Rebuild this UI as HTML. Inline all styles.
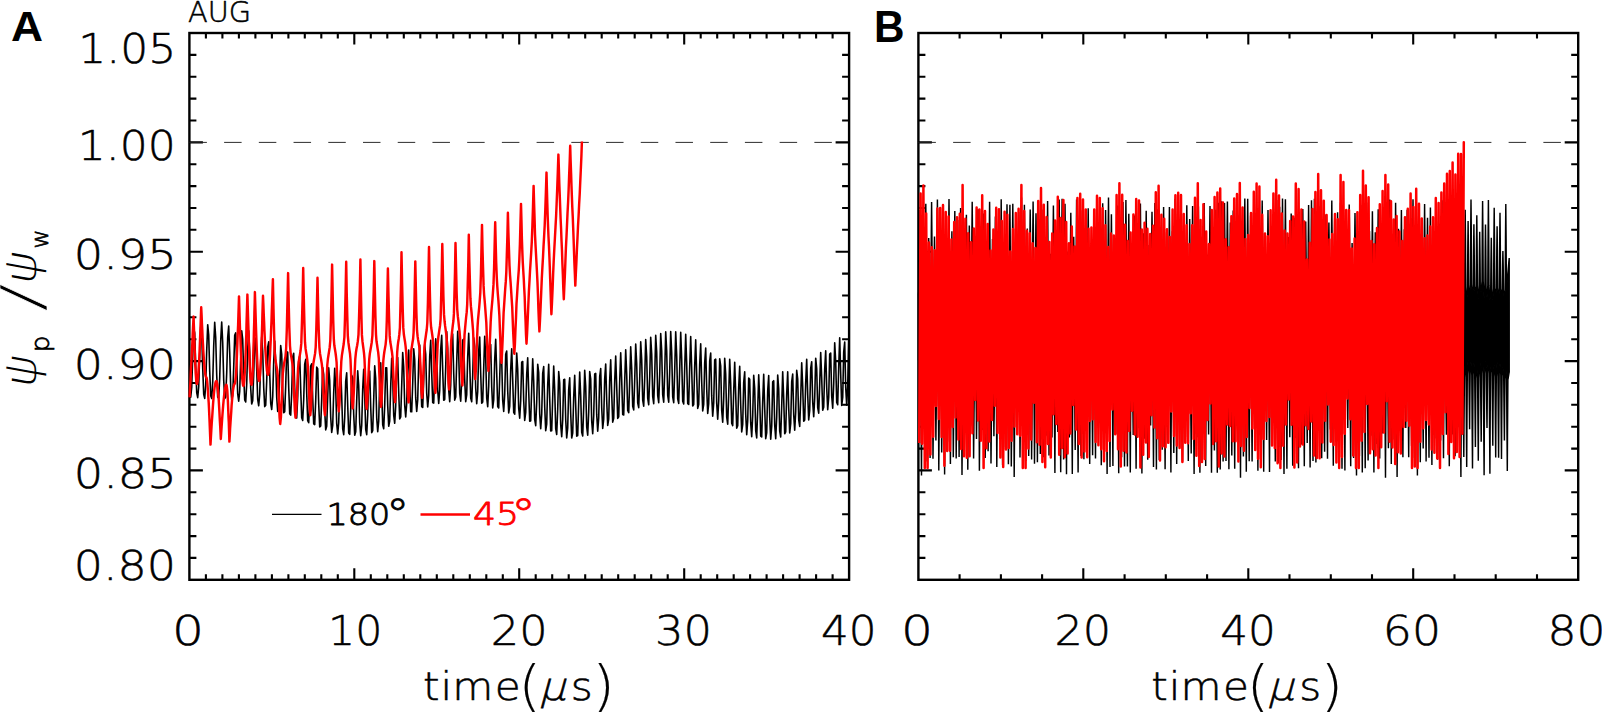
<!DOCTYPE html>
<html lang="en"><head><meta charset="utf-8"><title>Figure</title>
<style>html,body{margin:0;padding:0;background:#fff;overflow:hidden}svg{display:block}</style></head>
<body>
<svg width="1602" height="712" viewBox="0 0 1602 712">
<rect width="1602" height="712" fill="#fff"/>
<rect x="189.4" y="33" width="659.7" height="546.8" fill="none" stroke="#000" stroke-width="2.4"/>
<path d="M205.9 579.8v-5.6M205.9 33v5.6M222.4 579.8v-5.6M222.4 33v5.6M238.9 579.8v-5.6M238.9 33v5.6M255.4 579.8v-5.6M255.4 33v5.6M271.9 579.8v-5.6M271.9 33v5.6M288.4 579.8v-5.6M288.4 33v5.6M304.8 579.8v-5.6M304.8 33v5.6M321.3 579.8v-5.6M321.3 33v5.6M337.8 579.8v-5.6M337.8 33v5.6M354.3 579.8v-11.5M354.3 33v11.5M370.8 579.8v-5.6M370.8 33v5.6M387.3 579.8v-5.6M387.3 33v5.6M403.8 579.8v-5.6M403.8 33v5.6M420.3 579.8v-5.6M420.3 33v5.6M436.8 579.8v-5.6M436.8 33v5.6M453.3 579.8v-5.6M453.3 33v5.6M469.8 579.8v-5.6M469.8 33v5.6M486.3 579.8v-5.6M486.3 33v5.6M502.8 579.8v-5.6M502.8 33v5.6M519.2 579.8v-11.5M519.2 33v11.5M535.7 579.8v-5.6M535.7 33v5.6M552.2 579.8v-5.6M552.2 33v5.6M568.7 579.8v-5.6M568.7 33v5.6M585.2 579.8v-5.6M585.2 33v5.6M601.7 579.8v-5.6M601.7 33v5.6M618.2 579.8v-5.6M618.2 33v5.6M634.7 579.8v-5.6M634.7 33v5.6M651.2 579.8v-5.6M651.2 33v5.6M667.7 579.8v-5.6M667.7 33v5.6M684.2 579.8v-11.5M684.2 33v11.5M700.7 579.8v-5.6M700.7 33v5.6M717.2 579.8v-5.6M717.2 33v5.6M733.7 579.8v-5.6M733.7 33v5.6M750.1 579.8v-5.6M750.1 33v5.6M766.6 579.8v-5.6M766.6 33v5.6M783.1 579.8v-5.6M783.1 33v5.6M799.6 579.8v-5.6M799.6 33v5.6M816.1 579.8v-5.6M816.1 33v5.6M832.6 579.8v-5.6M832.6 33v5.6M189.4 557.9h7M849.1 557.9h-7M189.4 536.1h7M849.1 536.1h-7M189.4 514.2h7M849.1 514.2h-7M189.4 492.3h7M849.1 492.3h-7M189.4 470.4h13.5M849.1 470.4h-13.5M189.4 448.6h7M849.1 448.6h-7M189.4 426.7h7M849.1 426.7h-7M189.4 404.8h7M849.1 404.8h-7M189.4 383h7M849.1 383h-7M189.4 361.1h13.5M849.1 361.1h-13.5M189.4 339.2h7M849.1 339.2h-7M189.4 317.3h7M849.1 317.3h-7M189.4 295.5h7M849.1 295.5h-7M189.4 273.6h7M849.1 273.6h-7M189.4 251.7h13.5M849.1 251.7h-13.5M189.4 229.8h7M849.1 229.8h-7M189.4 208h7M849.1 208h-7M189.4 186.1h7M849.1 186.1h-7M189.4 164.2h7M849.1 164.2h-7M189.4 142.4h13.5M849.1 142.4h-13.5M189.4 120.5h7M849.1 120.5h-7M189.4 98.6h7M849.1 98.6h-7M189.4 76.7h7M849.1 76.7h-7M189.4 54.9h7M849.1 54.9h-7" fill="none" stroke="#000" stroke-width="2.1"/>
<line x1="189.4" y1="142.4" x2="849.1" y2="142.4" stroke="#222" stroke-width="0.95" stroke-dasharray="17.5 17.22"/>
<rect x="918.4" y="33" width="659.8" height="546.8" fill="none" stroke="#000" stroke-width="2.4"/>
<path d="M959.6 579.8v-5.6M959.6 33v5.6M1000.9 579.8v-5.6M1000.9 33v5.6M1042.1 579.8v-5.6M1042.1 33v5.6M1083.3 579.8v-11.5M1083.3 33v11.5M1124.6 579.8v-5.6M1124.6 33v5.6M1165.8 579.8v-5.6M1165.8 33v5.6M1207.1 579.8v-5.6M1207.1 33v5.6M1248.3 579.8v-11.5M1248.3 33v11.5M1289.5 579.8v-5.6M1289.5 33v5.6M1330.8 579.8v-5.6M1330.8 33v5.6M1372 579.8v-5.6M1372 33v5.6M1413.2 579.8v-11.5M1413.2 33v11.5M1454.5 579.8v-5.6M1454.5 33v5.6M1495.7 579.8v-5.6M1495.7 33v5.6M1537 579.8v-5.6M1537 33v5.6M918.4 557.9h7M1578.2 557.9h-7M918.4 536.1h7M1578.2 536.1h-7M918.4 514.2h7M1578.2 514.2h-7M918.4 492.3h7M1578.2 492.3h-7M918.4 470.4h13.5M1578.2 470.4h-13.5M918.4 448.6h7M1578.2 448.6h-7M918.4 426.7h7M1578.2 426.7h-7M918.4 404.8h7M1578.2 404.8h-7M918.4 383h7M1578.2 383h-7M918.4 361.1h13.5M1578.2 361.1h-13.5M918.4 339.2h7M1578.2 339.2h-7M918.4 317.3h7M1578.2 317.3h-7M918.4 295.5h7M1578.2 295.5h-7M918.4 273.6h7M1578.2 273.6h-7M918.4 251.7h13.5M1578.2 251.7h-13.5M918.4 229.8h7M1578.2 229.8h-7M918.4 208h7M1578.2 208h-7M918.4 186.1h7M1578.2 186.1h-7M918.4 164.2h7M1578.2 164.2h-7M918.4 142.4h13.5M1578.2 142.4h-13.5M918.4 120.5h7M1578.2 120.5h-7M918.4 98.6h7M1578.2 98.6h-7M918.4 76.7h7M1578.2 76.7h-7M918.4 54.9h7M1578.2 54.9h-7" fill="none" stroke="#000" stroke-width="2.1"/>
<line x1="918.4" y1="142.4" x2="1578.2" y2="142.4" stroke="#222" stroke-width="0.95" stroke-dasharray="17.5 17.22"/>
<polyline points="189.7,391.1 190.7,397.1 191.7,387.5 192.7,356.4 193.7,328.4 194.7,332.9 195.7,365.2 196.7,392.5 197.7,397.6 198.7,386.7 199.7,354.1 200.7,326.7 201.7,333.7 202.7,367.7 203.7,394.3 204.7,398.4 205.7,385.3 206.7,350.8 207.7,324.7 208.7,335.1 209.7,370.7 210.7,395.8 211.7,398.5 212.7,382.4 213.7,345.9 214.7,322.3 215.7,337.5 216.7,374.7 217.7,397.2 218.7,398.1 219.7,378.3 220.7,340.9 221.7,322 222.7,342.6 223.7,380.1 224.7,398.6 225.7,397 226.7,373.2 227.7,337.2 228.7,326 229.7,352.3 230.7,387.3 231.7,400 232.7,395.3 233.7,367.6 234.7,335.2 235.7,332.9 236.7,363.6 237.7,394 238.7,401.2 239.7,391.4 240.7,358.6 241.7,330.8 242.7,339.4 243.7,375 244.7,399.8 245.7,402 246.7,384.4 247.7,348.6 248.7,330.9 249.7,352.3 250.7,388.2 251.7,403.9 252.7,400.7 253.7,374.3 254.7,341 255.7,338 256.7,369.2 257.7,399.4 258.7,405.8 259.7,394.5 260.7,360.8 261.7,336.9 262.7,351.4 263.7,387.3 264.7,406.6 265.7,405.3 266.7,381.3 267.7,347.1 268.7,341.9 269.7,372.7 270.7,403.3 271.7,409.5 272.7,396.7 273.7,361.8 274.7,341 275.7,361 276.7,397.1 277.7,411.5 278.7,406.1 279.7,375.4 280.7,345.5 281.7,354.3 282.7,391 283.7,412.7 284.7,411.6 285.7,385.8 286.7,351.7 287.7,352.3 288.7,387.5 289.7,413.7 290.7,415.1 291.7,392.9 292.7,357.2 293.7,353.2 294.7,387 295.7,415.3 296.7,418 297.7,397.2 298.7,361.2 299.7,355.8 300.7,389.1 301.7,417.7 302.7,420.4 303.7,399.7 304.7,364.1 305.7,359.4 306.7,392.9 307.7,420.6 308.7,422.7 309.7,400.9 310.7,366 311.7,363.8 312.7,398.1 313.7,423.8 314.7,424.6 315.7,400.9 316.7,367.1 317.7,368.7 318.7,404 319.7,427 320.7,425.9 321.7,399.4 322.7,367.6 323.7,374.3 324.7,410.5 325.7,429.9 326.7,426.3 327.7,396.6 328.7,367.7 329.7,380.6 330.7,417.2 331.7,432.4 332.7,425.5 333.7,392.4 334.7,368.3 335.7,388 336.7,423.6 337.7,434 338.7,422.8 339.7,387.2 340.7,370 341.7,396.3 342.7,428.9 343.7,434.7 344.7,417.8 345.7,381.3 346.7,372.9 347.7,405.2 348.7,433 349.7,434.4 350.7,410.3 351.7,375.2 352.7,377.8 353.7,414.3 354.7,435.3 355.7,431.7 356.7,400.5 357.7,370.8 358.7,385.5 359.7,422.7 360.7,435.6 361.7,425.5 362.7,389 363.7,369.4 364.7,395.9 365.7,429.3 366.7,434.7 367.7,415.2 368.7,376.5 369.7,371.1 370.7,406.9 371.7,432.6 372.7,430.7 373.7,399.7 374.7,365.9 375.7,378.4 376.7,417.6 377.7,431.8 378.7,421.1 379.7,382.6 380.7,362.8 381.7,391.4 382.7,424.8 383.7,428.7 384.7,406 385.7,367.7 386.7,367.7 387.7,405.2 388.7,426.3 389.7,421 390.7,386.5 391.7,358.3 392.7,378.5 393.7,415.1 394.7,423.3 395.7,406.3 396.7,366.5 397.7,357.6 398.7,392.6 399.7,418.9 400.7,416.9 401.7,385.6 402.7,352.6 403.7,367 404.7,405.3 405.7,416.9 406.7,403.5 407.7,364.1 408.7,350.1 409.7,382.7 410.7,411.7 411.7,411.8 412.7,383.3 413.7,348.7 414.7,359.5 415.7,397.9 416.7,411.4 417.7,399.9 418.7,361.2 419.7,345 420.7,376.4 421.7,406.6 422.7,407.5 423.7,379.8 424.7,344.5 425.7,354.4 426.7,393.1 427.7,407 428.7,395.5 429.7,356.5 430.7,340.3 431.7,372.3 432.7,402.5 433.7,403.1 434.7,374.4 435.7,338.9 436.7,350.5 437.7,390.2 438.7,403.5 439.7,390.4 440.7,349.6 441.7,335.3 442.7,370.3 443.7,400.3 444.7,399.6 445.7,367.1 446.7,331.6 447.7,348.3 448.7,390 449.7,401.6 450.7,385.3 451.7,342.9 452.7,334 453.7,372.9 454.7,400.1 455.7,396.9 456.7,361.7 457.7,331.3 458.7,353.9 459.7,393.2 460.7,401.2 461.7,380.8 462.7,340.1 463.7,339.2 464.7,379.7 465.7,401.6 466.7,394.9 467.7,356.8 468.7,333.3 469.7,362.6 470.7,398.1 471.7,401.8 472.7,375.6 473.7,337.7 474.7,346.7 475.7,388.2 476.7,403.7 477.7,391.6 478.7,350.7 479.7,337 480.7,373.5 481.7,403.3 482.7,402 483.7,368.4 484.7,336.2 485.7,357.4 486.7,397.8 487.7,406.7 488.7,386.2 489.7,344.7 490.7,344.6 491.7,386.6 492.7,408 493.7,399.9 494.7,359.9 495.7,339.2 496.7,372.3 497.7,406.5 498.7,408 499.7,378 500.7,343 501.7,359.4 502.7,400.4 503.7,411.4 504.7,394.4 505.7,354.3 506.7,351.1 507.7,390.7 508.7,413 509.7,406.5 510.7,369.5 511.7,348.8 512.7,379.5 513.7,412.3 514.7,414.2 515.7,385.9 516.7,353 517.7,369.2 518.7,408.2 519.7,418.2 520.7,400.7 521.7,362.1 522.7,361.5 523.7,400.8 524.7,420.5 525.7,412.4 526.7,374.5 527.7,357.8 528.7,391.3 529.7,421.3 530.7,420.7 531.7,388.6 532.7,358.8 533.7,381.4 534.7,419.3 535.7,425.7 536.7,402.3 537.7,364.2 538.7,372.7 539.7,414.2 540.7,428.6 541.7,414.4 542.7,373.3 543.7,366.6 544.7,406.8 545.7,430.7 546.7,424.1 547.7,384.9 548.7,364.3 549.7,398.2 550.7,430.9 551.7,430.7 552.7,397.4 553.7,366.1 554.7,389.8 555.7,428.7 556.7,434.5 557.7,409.3 558.7,371.5 559.7,383.1 560.7,424.6 561.7,436.7 562.7,419.7 563.7,379.7 564.7,379.3 565.7,419.5 566.7,437.9 567.7,427.8 568.7,389.3 569.7,377.8 570.7,413.4 571.7,438 572.7,433.1 573.7,397 574.7,375.3 575.7,405.4 576.7,436.2 577.7,435.5 578.7,402.6 579.7,372 580.7,395.8 581.7,432.3 582.7,436 583.7,407.4 584.7,370.3 585.7,386.5 586.7,426.9 587.7,435.1 588.7,412 589.7,371.5 590.7,379.2 591.7,421 592.7,433.6 593.7,415.8 594.7,373.9 595.7,373.4 596.7,414.4 597.7,431.3 598.7,418.1 599.7,376.6 600.7,368.6 601.7,407.5 602.7,428.5 603.7,419.1 604.7,378.7 605.7,364.1 606.7,400.4 607.7,425.5 608.7,419.1 609.7,380.1 610.7,359.8 611.7,393.4 612.7,422.1 613.7,418.3 614.7,381.1 615.7,356.1 616.7,386.6 617.7,418.4 618.7,416.8 619.7,381.5 620.7,352.7 621.7,380.2 622.7,414.5 623.7,414.9 624.7,381.6 625.7,349.7 626.7,374.3 627.7,410.5 628.7,412.6 629.7,381 630.7,346.8 631.7,368.7 632.7,406.3 633.7,409.9 634.7,380 635.7,344.1 636.7,363.9 637.7,402.8 638.7,407.7 639.7,379.1 640.7,341.7 641.7,360 642.7,400.2 643.7,406.2 644.7,378.2 645.7,339.5 646.7,356.8 647.7,398.1 648.7,404.8 649.7,377.1 650.7,337.3 651.7,354.2 652.7,396.4 653.7,403.6 654.7,375.7 655.7,335.4 656.7,352.4 657.7,395.4 658.7,402.6 659.7,374.3 660.7,333.6 661.7,351.4 662.7,394.9 663.7,402.1 664.7,372.8 665.7,331.9 666.7,351.4 667.7,395.4 668.7,402.1 669.7,371.6 670.7,331.5 671.7,353 672.7,396.8 673.7,402.6 674.7,370.7 675.7,331.7 676.7,355.7 677.7,398.9 678.7,403.4 679.7,369.6 680.7,332.4 681.7,359.4 682.7,401.2 683.7,404 684.7,368.4 685.7,334.2 686.7,364.1 687.7,403.6 688.7,404.4 689.7,367.1 690.7,336.6 691.7,369.5 692.7,406 693.7,404.6 694.7,365.8 695.7,339.9 696.7,375.6 697.7,408.4 698.7,404.6 699.7,364.3 700.7,343.7 701.7,382 702.7,410.9 703.7,404.3 704.7,362.7 705.7,348 706.7,388.7 707.7,413.4 708.7,403.7 709.7,361.2 710.7,353.1 711.7,395.9 712.7,416.3 713.7,402.9 714.7,359.8 715.7,359.1 716.7,403.3 717.7,419.3 718.7,401.2 719.7,358.7 720.7,366.1 721.7,410.5 722.7,422.1 723.7,398.5 724.7,358.2 725.7,374.3 726.7,417.2 727.7,424.2 728.7,395 729.7,359.2 730.7,383.8 731.7,423.2 732.7,425.6 733.7,391.2 734.7,362.2 735.7,394.2 736.7,428.3 737.7,425.8 738.7,387 739.7,366.3 740.7,404.4 741.7,432 742.7,424.3 743.7,382.3 744.7,371.8 745.7,414 746.7,434.6 747.7,420.9 748.7,378.1 749.7,379.2 750.7,422.9 751.7,436.7 752.7,416 753.7,375.4 754.7,388.6 755.7,430.7 756.7,437.9 757.7,409.8 758.7,374.9 759.7,398.8 760.7,436.1 761.7,437 762.7,401.2 763.7,374.2 764.7,407.9 765.7,438.7 766.7,432.9 767.7,390.9 768.7,375.5 769.7,416.7 770.7,439.3 771.7,426.2 772.7,381.7 773.7,380.7 774.7,425 775.7,438.8 776.7,417.1 777.7,375.1 778.7,389.1 779.7,431.2 780.7,437 781.7,406 782.7,371.8 783.7,398.7 784.7,433.8 785.7,431.9 786.7,393.8 787.7,371.9 788.7,407.7 789.7,433 790.7,423.5 791.7,381.5 792.7,374.1 793.7,414.6 794.7,430.2 795.7,412 796.7,370.4 797.7,379.1 798.7,419.6 799.7,426.5 800.7,398.1 801.7,362.9 802.7,386.4 803.7,421.3 804.7,420 805.7,382.5 806.7,359.3 807.7,394.4 808.7,419.9 809.7,410.3 810.7,368.4 811.7,361.7 812.7,402.1 813.7,416.7 814.7,398 815.7,358.2 816.7,368.8 817.7,407.7 818.7,413.2 819.7,384.3 820.7,352.5 821.7,378.2 822.7,410.2 823.7,407.3 824.7,369.4 825.7,350.8 826.7,387.6 827.7,409.8 828.7,397.5 829.7,354.1 830.7,353.1 831.7,396 832.7,408.1 833.7,383.7 834.7,342.7 835.7,361.7 836.7,402.5 837.7,404.7 838.7,367.3 839.7,337.9 840.7,374 841.7,405.4 842.7,397.4 843.7,352 844.7,342.1 845.7,387.2 846.7,405.3 847.7,385.7 848.7,341.1" fill="none" stroke="#000" stroke-width="1.6" stroke-linejoin="round" />
<polyline points="189.6,397.4 189.9,391.6 190.2,385.9 190.5,380.1 190.7,374.3 191,368.5 191.3,362.8 191.6,357 191.9,351.2 192.2,345.5 192.5,339.7 192.7,333.9 193,328.1 193.3,322.4 193.6,316.6 193.8,324.1 194.1,331.6 194.3,338.9 194.5,345.8 194.8,352.5 195,358.6 195.2,364.3 195.5,369.3 195.7,373.7 196,377.3 196.2,380.2 196.4,382.3 196.7,383.6 196.9,384 197.2,383.5 197.5,382.1 197.8,379.7 198.1,376.4 198.4,372.2 198.7,367.3 199.1,361.5 199.4,355.1 199.7,348.1 200,340.6 200.3,332.6 200.6,324.4 200.9,315.9 201.2,307.3 201.6,315.1 201.9,322.9 202.3,330.4 202.6,337.6 203,344.5 203.3,350.9 203.7,356.7 204.1,362 204.4,366.5 204.8,370.3 205.1,373.3 205.5,375.4 205.8,376.8 206.2,377.2 206.5,377.6 206.8,378.9 207.1,381 207.4,383.9 207.7,387.5 208,391.9 208.3,396.9 208.7,402.6 209,408.7 209.3,415.4 209.6,422.3 209.9,429.6 210.2,437.1 210.5,444.6 210.9,437.5 211.3,430.4 211.7,423.6 212.2,417 212.6,410.8 213,404.9 213.4,399.6 213.8,394.9 214.2,390.7 214.6,387.3 215.1,384.6 215.5,382.6 215.9,381.4 216.3,381 216.6,381.4 216.9,382.5 217.3,384.3 217.6,386.7 217.9,389.9 218.2,393.7 218.6,398 218.9,402.8 219.2,408.1 219.5,413.8 219.8,419.8 220.2,426.1 220.5,432.5 220.8,439 221.2,432.9 221.6,426.9 222,421.1 222.4,415.5 222.8,410.2 223.2,405.2 223.6,400.7 224,396.6 224.4,393.1 224.8,390.2 225.2,387.8 225.6,386.2 226,385.1 226.4,384.8 226.6,385.2 226.8,386.2 227,388 227.3,390.4 227.5,393.5 227.7,397.2 227.9,401.4 228.1,406.2 228.3,411.4 228.5,417 228.8,422.8 229,429 229.2,435.2 229.4,441.6 229.8,435.2 230.1,428.8 230.5,422.6 230.9,416.6 231.3,411 231.6,405.7 232,400.9 232.4,396.6 232.7,392.8 233.1,389.7 233.5,387.2 233.9,385.4 234.2,384.4 234.6,384 234.9,383.4 235.2,381.8 235.5,379.1 235.9,375.3 236.2,370.6 236.5,364.9 236.8,358.3 237.1,351 237.4,343 237.7,334.4 238.1,325.3 238.4,315.9 238.7,306.2 239,296.4 239.3,306.4 239.6,316.3 239.9,326 240.3,335.3 240.6,344.1 240.9,352.3 241.2,359.8 241.5,366.5 241.8,372.3 242.1,377.1 242.5,381 242.8,383.8 243.1,385.4 243.4,386 243.7,385.4 244,383.7 244.3,380.9 244.5,376.9 244.8,372 245.1,366.1 245.4,359.2 245.7,351.6 246,343.2 246.3,334.3 246.5,324.8 246.8,314.9 247.1,304.8 247.4,294.6 247.7,304.7 248,314.7 248.3,324.4 248.6,333.7 248.9,342.6 249.2,350.8 249.4,358.4 249.7,365.1 250,371 250.3,375.9 250.6,379.7 250.9,382.5 251.2,384.2 251.5,384.8 251.7,384.2 252,382.5 252.2,379.6 252.5,375.6 252.7,370.6 253,364.6 253.2,357.6 253.4,349.9 253.7,341.4 253.9,332.3 254.2,322.7 254.4,312.7 254.7,302.5 254.9,292.1 255.2,302.1 255.5,311.9 255.8,321.5 256.1,330.7 256.4,339.4 256.7,347.5 257,355 257.3,361.6 257.6,367.4 257.9,372.2 258.2,376 258.5,378.8 258.8,380.4 259.1,381 259.4,380.5 259.7,378.9 259.9,376.2 260.2,372.6 260.5,367.9 260.8,362.4 261.1,356 261.3,348.9 261.6,341.1 261.9,332.7 262.2,323.9 262.4,314.7 262.7,305.3 263,295.7 263.4,304.5 263.7,313.3 264.1,321.8 264.4,330 264.8,337.7 265.1,345 265.5,351.6 265.9,357.5 266.2,362.6 266.6,366.9 266.9,370.3 267.3,372.7 267.6,374.2 268,374.7 268.4,374.1 268.7,372.3 269.1,369.3 269.4,365.3 269.8,360.1 270.1,353.9 270.4,346.8 270.8,338.8 271.1,330.1 271.5,320.7 271.8,310.8 272.2,300.5 272.5,290 272.9,279.3 273.5,309 274.1,333.5 274.7,352.3 275.3,358.9 275.9,362.6 276.5,366.1 277.2,370 277.8,375.8 278.4,390.5 279,404.5 279.6,417.7 280.2,424 280.9,417.4 281.5,403.7 282.2,389.1 282.8,373.7 283.5,367.6 284.1,363.6 284.8,359.9 285.5,356.1 286.1,349.2 286.8,329.7 287.4,304.1 288.1,273.1 288.7,302.8 289.3,327.3 290,346 290.6,352.6 291.2,356.3 291.8,359.9 292.4,363.7 293,369.5 293.6,384.3 294.3,398.3 294.9,411.4 295.5,417.7 296.1,411.1 296.8,397.6 297.4,383.1 298.1,367.8 298.7,361.7 299.4,357.8 300,354.1 300.6,350.3 301.3,343.4 301.9,324.1 302.6,298.7 303.2,267.9 303.8,298.2 304.4,323.1 305,342.2 305.6,348.9 306.2,352.7 306.8,356.3 307.3,360.2 307.9,366.1 308.5,381.1 309.1,395.4 309.7,408.7 310.3,415.2 310.9,409.2 311.5,396.7 312.1,383.4 312.7,369.4 313.3,363.9 313.9,360.2 314.5,356.9 315.1,353.4 315.7,347.1 316.3,329.3 316.9,306 317.5,277.8 318.1,306 318.7,329.3 319.4,347.1 320,353.4 320.6,356.9 321.2,360.2 321.8,363.9 322.4,369.4 323,383.4 323.7,396.7 324.3,409.2 324.9,415.2 325.5,408.6 326.1,394.9 326.7,380.4 327.3,365 327.9,358.9 328.5,355 329.1,351.3 329.7,347.4 330.3,340.5 330.9,321.1 331.5,295.5 332.1,264.6 332.7,294.7 333.2,319.6 333.8,338.6 334.3,345.3 334.9,349 335.5,352.6 336,356.5 336.6,362.4 337.1,377.4 337.7,391.6 338.2,404.9 338.8,411.3 339.4,404.7 340,391.2 340.6,376.7 341.3,361.4 341.9,355.4 342.5,351.5 343.1,347.8 343.7,344 344.4,337.1 345,317.8 345.6,292.4 346.2,261.7 346.7,291.8 347.3,316.7 347.8,335.7 348.4,342.4 348.9,346.1 349.4,349.7 350,353.6 350.5,359.5 351.1,374.5 351.6,388.7 352.2,402 352.7,408.4 353.3,401.9 354,388.4 354.6,374 355.3,358.8 355.9,352.8 356.5,348.8 357.2,345.2 357.8,341.4 358.5,334.6 359.1,315.3 359.8,290.1 360.4,259.5 360.9,290.2 361.4,315.5 361.9,334.9 362.5,341.7 363,345.5 363.5,349.2 364,353.2 364.5,359.2 365.1,374.4 365.6,388.9 366.1,402.4 366.6,409 367.2,402.5 367.9,389.1 368.5,374.8 369.2,359.7 369.8,353.8 370.5,349.8 371.1,346.2 371.7,342.5 372.4,335.7 373,316.5 373.7,291.5 374.3,261.1 374.9,291.1 375.4,315.8 376,334.6 376.5,341.3 377.1,345 377.6,348.6 378.2,352.4 378.8,358.3 379.3,373.2 379.9,387.3 380.4,400.5 381,406.9 381.6,400.8 382.1,388.3 382.7,374.9 383.3,360.8 383.9,355.2 384.4,351.5 385,348.1 385.6,344.6 386.2,338.3 386.8,320.4 387.3,296.9 387.9,268.5 388.5,296 389.1,318.6 389.7,335.9 390.3,342 390.9,345.4 391.4,348.7 392,352.3 392.6,357.6 393.2,371.3 393.8,384.2 394.4,396.3 395,402.2 395.5,395.6 396.1,382 396.6,367.5 397.2,352.2 397.7,346.2 398.2,342.2 398.8,338.5 399.3,334.7 399.9,327.8 400.4,308.4 401,283 401.5,252.2 402.1,283.1 402.7,308.5 403.3,327.9 403.9,334.8 404.5,338.6 405.1,342.3 405.6,346.3 406.2,352.3 406.8,367.7 407.4,382.2 408,395.8 408.6,402.4 409.2,396.2 409.7,383.4 410.3,369.8 410.8,355.4 411.4,349.7 412,346 412.5,342.5 413.1,339 413.6,332.5 414.2,314.3 414.7,290.4 415.3,261.4 415.9,289.4 416.4,312.5 417,330.2 417.6,336.4 418.1,339.9 418.7,343.2 419.3,346.9 419.8,352.3 420.4,366.3 421,379.5 421.5,391.8 422.1,397.8 422.7,391.2 423.2,377.5 423.8,362.9 424.4,347.5 425,341.5 425.6,337.5 426.1,333.8 426.7,330 427.3,323 427.9,303.5 428.4,278 429,247 429.5,277 430.1,301.7 430.6,320.6 431.1,327.3 431.7,331 432.2,334.5 432.7,338.4 433.3,344.3 433.8,359.2 434.3,373.3 434.9,386.5 435.4,392.9 436,386.4 436.5,372.9 437.1,358.5 437.7,343.3 438.3,337.3 438.9,333.3 439.4,329.7 440,325.9 440.6,319.1 441.1,299.8 441.7,274.6 442.3,244 442.9,272.5 443.4,296.1 444,314.4 444.6,321.5 445.1,325.9 445.7,330.1 446.3,334.6 446.8,341 447.4,355.6 448,369.6 448.5,382.7 449.1,389.5 449.6,382.6 450.2,369.4 450.7,355.4 451.2,340.7 451.8,334.3 452.3,329.7 452.8,325.4 453.4,321 453.9,313.9 454.4,295.5 455,271.7 455.5,243 456.1,269.4 456.6,291.5 457.2,308.8 457.8,316.2 458.4,321.2 458.9,326.1 459.5,331.2 460.1,338 460.7,352.1 461.2,365.6 461.8,378.3 462.4,385.5 462.9,377.9 463.5,364.4 464,350.2 464.5,335.2 465.1,328.1 465.6,322.7 466.1,317.5 466.7,312.2 467.2,304.3 467.7,286 468.3,262.6 468.8,234.7 469.3,259.9 469.9,281.2 470.4,298.2 470.9,306.2 471.5,312 472,317.7 472.5,323.6 473.1,331 473.6,345 474.1,358.5 474.7,371.3 475.2,379.1 475.8,370.8 476.3,357.1 476.9,342.7 477.5,327.7 478,319.8 478.6,313.5 479.2,307.4 479.7,301.2 480.3,292.7 480.9,274.6 481.4,251.8 482,224.9 482.5,248.8 483.1,269.3 483.6,285.9 484.1,294.5 484.7,301.1 485.2,307.6 485.7,314.3 486.3,322.3 486.8,336.3 487.3,349.8 487.9,362.6 488.4,371 489,362.5 489.5,349.4 490.1,335.7 490.7,321.4 491.2,313.3 491.8,306.5 492.4,299.8 492.9,293.1 493.5,284.4 494.1,267.5 494.6,246.7 495.2,222.3 495.7,243.9 496.2,262.5 496.8,278 497.3,286.6 497.8,293.7 498.4,300.7 498.9,307.8 499.4,316 499.9,329.3 500.4,342.1 501,354.4 501.5,362.9 502,353.8 502.6,340.6 503.1,327 503.6,312.8 504.2,304 504.7,296.4 505.2,289 505.8,281.4 506.3,272.2 506.8,255.7 507.4,235.7 507.9,212.7 508.4,232.9 509,250.6 509.5,265.6 510,274.7 510.6,282.5 511.1,290.2 511.6,298 512.2,306.8 512.7,319.8 513.2,332.5 513.8,344.8 514.3,353.8 514.9,344.2 515.4,331.2 516,317.7 516.5,303.8 517.1,294.5 517.6,286.2 518.2,278 518.8,269.8 519.3,260.1 519.9,244.2 520.4,225.4 521,203.9 521.5,222.5 521.9,239 522.4,253.3 522.8,262.8 523.3,271.2 523.8,279.5 524.2,288 524.7,297.2 525.1,309.9 525.6,322.3 526,334.4 526.5,343.8 527.1,333.2 527.7,319.5 528.3,305.5 528.9,291.2 529.5,280.8 530,271.2 530.6,261.8 531.2,252.4 531.8,241.6 532.4,225.5 533,206.9 533.6,185.9 534.1,203.8 534.6,219.9 535,234.2 535.5,244.6 536,254 536.5,263.3 537,272.8 537.5,282.9 538,295.9 538.4,308.7 538.9,321.1 539.4,331.4 540,320.2 540.6,306.6 541.2,292.7 541.8,278.5 542.4,267.4 543,257.1 543.5,246.9 544.1,236.6 544.7,225.3 545.3,209.7 545.9,192.1 546.5,172.6 546.9,188.5 547.3,203.2 547.7,216.6 548.1,227.1 548.5,237 549,246.8 549.4,256.7 549.8,267 550.2,279.4 550.6,291.7 551,303.7 551.4,314.2 552,302.4 552.6,288.8 553.1,275 553.7,261 554.3,249.3 554.9,238.2 555.5,227.1 556.1,216 556.6,204.2 557.2,189.1 557.8,172.5 558.4,154.6 558.9,169.5 559.3,183.5 559.8,196.6 560.2,207.8 560.6,218.5 561.1,229.2 561.5,240 562,251 562.4,263.5 562.9,275.8 563.3,288.1 563.8,299.2 564.3,287.4 564.9,274.4 565.4,261.3 565.9,248.1 566.5,236.3 567,225 567.5,213.6 568.1,202.3 568.6,190.4 569.1,176.5 569.7,161.6 570.2,145.8 570.6,160 571.1,173.5 571.5,186.1 571.9,196.9 572.3,207.4 572.8,217.8 573.2,228.3 573.6,239 574,251 574.4,263 574.9,274.8 575.3,285.6 575.8,274.4 576.4,262.3 576.9,250 577.5,237.6 578,226.5 578.6,215.7 579.1,205 579.7,194.2 580.2,183 580.8,170 581.4,156.1 581.9,141.5" fill="none" stroke="#ff0000" stroke-width="2.45" stroke-linejoin="round" />
<polygon points="918.6,300 918.5,294.3 919.4,284.1 919.7,239.4 920,209.9 920.3,239.4 920.6,284.1 921.4,300 922.3,294.1 922.6,268.1 922.9,250.9 923.2,268.1 923.5,294.1 924.3,296.5 925.2,285.3 925.5,236.2 925.8,203.8 926.1,236.2 926.4,285.3 927.2,298.2 928.1,291 928.4,259.2 928.7,238.1 929,259.2 929.3,291 930.1,292.4 931,281.6 931.3,233.7 931.6,202.1 931.9,233.7 932.2,281.6 933,298.3 933.9,290.9 934.2,258.2 934.5,236.6 934.8,258.2 935.1,290.9 935.9,294 936.8,282.7 937.1,232.6 937.4,199.5 937.7,232.6 938,282.7 938.8,294.7 939.7,285.3 940,243.6 940.3,216.1 940.6,243.6 940.9,285.3 941.7,299.4 942.6,288.4 942.9,239.8 943.2,207.7 943.5,239.8 943.8,288.4 944.6,295.6 945.5,288.7 945.8,257.9 946.1,237.6 946.4,257.9 946.7,288.7 947.5,293.5 948.4,282.2 948.7,232.2 949,199.1 949.3,232.2 949.6,282.2 950.4,298.1 951.3,290 951.6,254.6 951.9,231.2 952.2,254.6 952.5,290 953.3,294.4 954.2,284.4 954.5,240.1 954.8,210.9 955.1,240.1 955.4,284.4 956.2,298.7 957.1,289.3 957.4,247.5 957.7,219.9 958,247.5 958.3,289.3 959.1,301 960,289.9 960.3,240.6 960.6,208 960.9,240.6 961.2,289.9 962,297.5 962.9,288.4 963.2,248.3 963.5,221.8 963.8,248.3 964.1,288.4 964.9,295.8 965.8,286 966.1,243.1 966.4,214.8 966.7,243.1 967,286 967.8,296.7 968.7,288.1 969,250.5 969.3,225.6 969.6,250.5 969.9,288.1 970.7,293.2 971.6,282.3 971.9,233.8 972.2,201.8 972.5,233.8 972.8,282.3 973.6,300.7 974.5,293.7 974.8,262.8 975.1,242.3 975.4,262.8 975.7,293.7 976.5,297.2 977.4,286.6 977.7,240 978,209.2 978.3,240 978.6,286.6 979.4,292.1 980.3,287.3 980.6,266.3 980.9,252.4 981.2,266.3 981.5,287.3 982.3,300.2 983.2,289.7 983.5,243.8 983.8,213.4 984.1,243.8 984.4,289.7 985.2,299.3 986.1,292.3 986.4,261.5 986.7,241.1 987,261.5 987.3,292.3 988.1,295.5 989,284.2 989.3,234.6 989.6,201.8 989.9,234.6 990.2,284.2 991,301.5 991.9,294 992.2,260.8 992.5,238.9 992.8,260.8 993.1,294 993.9,301 994.8,290.8 995.1,246.1 995.4,216.6 995.7,246.1 996,290.8 996.8,296.1 997.7,289.3 998,259.1 998.3,239.2 998.6,259.1 998.9,289.3 999.7,301.5 1000.6,289.2 1000.9,235.1 1001.2,199.3 1001.5,235.1 1001.8,289.2 1002.6,298.3 1003.5,292.3 1003.8,265.8 1004.1,248.2 1004.4,265.8 1004.7,292.3 1005.5,292.5 1006.4,281.9 1006.7,235.2 1007,204.3 1007.3,235.2 1007.6,281.9 1008.4,297.9 1009.3,286.8 1009.6,237.4 1009.9,204.8 1010.2,237.4 1010.5,286.8 1011.3,298.3 1012.2,286.9 1012.5,236.9 1012.8,203.8 1013.1,236.9 1013.4,286.9 1014.2,299.6 1015.1,290.5 1015.4,250.1 1015.7,223.4 1016,250.1 1016.3,290.5 1017.1,300 1018,289.4 1018.3,242.7 1018.6,211.9 1018.9,242.7 1019.2,289.4 1020,294.5 1020.9,282.9 1021.2,231.4 1021.5,197.4 1021.8,231.4 1022.1,282.9 1022.9,298.8 1023.8,287.5 1024.1,237.6 1024.4,204.7 1024.7,237.6 1025,287.5 1025.8,300.1 1026.7,291.5 1027,253.5 1027.3,228.4 1027.6,253.5 1027.9,291.5 1028.7,292.4 1029.6,282.5 1029.9,238.6 1030.2,209.6 1030.5,238.6 1030.8,282.5 1031.6,293.1 1032.5,282.1 1032.8,233.5 1033.1,201.4 1033.4,233.5 1033.7,282.1 1034.5,300 1035.4,289.6 1035.7,243.5 1036,213.2 1036.3,243.5 1036.6,289.6 1037.4,297.7 1038.3,291.6 1038.6,264.5 1038.9,246.7 1039.2,264.5 1039.5,291.6 1040.3,298.3 1041.2,287.7 1041.5,240.6 1041.8,209.6 1042.1,240.6 1042.4,287.7 1043.2,300.7 1044.1,294.4 1044.4,266.5 1044.7,248.1 1045,266.5 1045.3,294.4 1046.1,294.1 1047,283 1047.3,233.6 1047.6,201.1 1047.9,233.6 1048.2,283 1049,296.6 1049.9,291.4 1050.2,268.8 1050.5,253.8 1050.8,268.8 1051.1,291.4 1052,295.8 1052.8,284.9 1053.1,237.2 1053.4,205.6 1053.7,237.2 1054,284.9 1054.9,295.3 1055.7,288.4 1056,257.8 1056.3,237.6 1056.6,257.8 1056.9,288.4 1057.8,295 1058.6,283.5 1058.9,233 1059.2,199.5 1059.5,233 1059.8,283.5 1060.7,301.1 1061.5,288.8 1061.8,234.5 1062.1,198.7 1062.4,234.5 1062.7,288.8 1063.6,293.9 1064.4,283.1 1064.7,235.3 1065,203.8 1065.3,235.3 1065.6,283.1 1066.5,293 1067.3,288 1067.6,265.9 1067.9,251.4 1068.2,265.9 1068.5,288 1069.4,295.7 1070.2,285.8 1070.5,241.8 1070.8,212.8 1071.1,241.8 1071.4,285.8 1072.3,294.7 1073.1,287.7 1073.4,257 1073.7,236.8 1074,257 1074.3,287.7 1075.2,298.4 1076,286.6 1076.3,234.1 1076.6,199.4 1076.9,234.1 1077.2,286.6 1078.1,299.8 1078.9,294.5 1079.2,271.2 1079.5,255.9 1079.8,271.2 1080.1,294.5 1081,299.6 1081.8,288.8 1082.1,241.5 1082.4,210.2 1082.7,241.5 1083,288.8 1083.9,292.3 1084.7,285.3 1085,254.3 1085.3,233.8 1085.6,254.3 1085.9,285.3 1086.8,299.2 1087.6,288.3 1087.9,240.1 1088.2,208.3 1088.5,240.1 1088.8,288.3 1089.7,293.4 1090.5,288.1 1090.8,264.7 1091.1,249.2 1091.4,264.7 1091.7,288.1 1092.6,300.3 1093.4,290.2 1093.7,246.1 1094,216.9 1094.3,246.1 1094.6,290.2 1095.5,293.2 1096.3,284.5 1096.6,246.2 1096.9,220.9 1097.2,246.2 1097.5,284.5 1098.4,293.9 1099.2,283.7 1099.5,238.7 1099.8,208.9 1100.1,238.7 1100.4,283.7 1101.3,295.1 1102.1,284.1 1102.4,235.3 1102.7,203.2 1103,235.3 1103.3,284.1 1104.2,301.2 1105,290.2 1105.3,241.9 1105.6,209.9 1105.9,241.9 1106.2,290.2 1107.1,293.2 1107.9,281.7 1108.2,231 1108.5,197.4 1108.8,231 1109.1,281.7 1110,298.7 1110.8,288.6 1111.1,243.9 1111.4,214.3 1111.7,243.9 1112,288.6 1112.9,298.3 1113.7,290.9 1114,258.5 1114.3,237.1 1114.6,258.5 1114.9,290.9 1115.8,293.8 1116.6,283.2 1116.9,236.4 1117.2,205.5 1117.5,236.4 1117.8,283.2 1118.7,294.3 1119.5,285.5 1119.8,246.4 1120.1,220.5 1120.4,246.4 1120.7,285.5 1121.6,301.1 1122.4,289.2 1122.7,236.7 1123,201.9 1123.3,236.7 1123.6,289.2 1124.5,300.8 1125.3,288.7 1125.6,235.3 1125.9,200.1 1126.2,235.3 1126.5,288.7 1127.4,300.5 1128.2,290.1 1128.5,244.1 1128.8,213.8 1129.1,244.1 1129.4,290.1 1130.3,299.6 1131.1,293.1 1131.4,264.4 1131.7,245.4 1132,264.4 1132.3,293.1 1133.2,301.4 1134,291.1 1134.3,245.5 1134.6,215.5 1134.9,245.5 1135.2,291.1 1136.1,297.8 1136.9,290.4 1137.2,258 1137.5,236.6 1137.8,258 1138.1,290.4 1139,298.4 1139.8,287 1140.1,236.6 1140.4,203.4 1140.7,236.6 1141,287 1141.9,300.4 1142.7,292.3 1143,256.8 1143.3,233.3 1143.6,256.8 1143.9,292.3 1144.8,299.7 1145.6,289 1145.9,241.9 1146.2,210.7 1146.5,241.9 1146.8,289 1147.7,296.7 1148.5,290.5 1148.8,263.2 1149.1,245.1 1149.4,263.2 1149.7,290.5 1150.6,292.8 1151.4,283.1 1151.7,240.1 1152,211.7 1152.3,240.1 1152.6,283.1 1153.5,297.5 1154.3,286.2 1154.6,236 1154.9,202.9 1155.2,236 1155.5,286.2 1156.4,300.8 1157.2,289.8 1157.5,241.3 1157.8,209.3 1158.1,241.3 1158.4,289.8 1159.3,297.5 1160.1,289.9 1160.4,256.3 1160.7,234.2 1161,256.3 1161.3,289.9 1162.2,298.8 1163,287.7 1163.3,239 1163.6,206.9 1163.9,239 1164.2,287.7 1165.1,299.4 1165.9,291.4 1166.2,255.8 1166.5,232.2 1166.8,255.8 1167.1,291.4 1168,295.4 1168.8,284.8 1169.1,237.8 1169.4,206.9 1169.7,237.8 1170,284.8 1170.9,296.5 1171.7,288.6 1172,254.1 1172.3,231.2 1172.6,254.1 1172.9,288.6 1173.8,297.8 1174.6,285.9 1174.9,233.4 1175.2,198.7 1175.5,233.4 1175.8,285.9 1176.7,296.2 1177.5,289.8 1177.8,261.4 1178.1,242.6 1178.4,261.4 1178.7,289.8 1179.6,302 1180.4,290.2 1180.7,238 1181,203.6 1181.3,238 1181.6,290.2 1182.5,301.5 1183.3,293.4 1183.6,257.5 1183.9,233.9 1184.2,257.5 1184.5,293.4 1185.4,296.9 1186.2,285.9 1186.5,237.3 1186.8,205.2 1187.1,237.3 1187.4,285.9 1188.3,296.9 1189.1,287.6 1189.4,246.2 1189.7,218.9 1190,246.2 1190.3,287.6 1191.2,296.7 1192,285.8 1192.3,237.7 1192.6,206 1192.9,237.7 1193.2,285.8 1194.1,294 1194.9,286.9 1195.2,255.2 1195.5,234.3 1195.8,255.2 1196.1,286.9 1197,296.5 1197.8,285.7 1198.1,238 1198.4,206.5 1198.7,238 1199,285.7 1199.9,295.8 1200.7,289.5 1201,261.7 1201.3,243.3 1201.6,261.7 1201.9,289.5 1202.8,298.3 1203.6,286.9 1203.9,236.3 1204.2,202.9 1204.5,236.3 1204.8,286.9 1205.7,294.6 1206.5,289.8 1206.8,268.5 1207.1,254.5 1207.4,268.5 1207.7,289.8 1208.6,294 1209.4,283.4 1209.7,236.8 1210,206 1210.3,236.8 1210.6,283.4 1211.5,301.2 1212.3,292.5 1212.6,254.2 1212.9,228.9 1213.2,254.2 1213.5,292.5 1214.4,295.4 1215.2,285.2 1215.5,239.8 1215.8,209.8 1216.1,239.8 1216.4,285.2 1217.3,293.4 1218.1,282.5 1218.4,234.5 1218.7,202.7 1219,234.5 1219.3,282.5 1220.2,292.3 1221,281.3 1221.3,233.1 1221.6,201.3 1221.9,233.1 1222.2,281.3 1223.1,294.7 1223.9,283.7 1224.2,235.1 1224.5,203 1224.8,235.1 1225.1,283.7 1226,296.2 1226.8,284.8 1227.1,234.6 1227.4,201.5 1227.7,234.6 1228,284.8 1228.9,298.7 1229.7,289.5 1230,249.1 1230.3,222.4 1230.6,249.1 1230.9,289.5 1231.8,294.1 1232.6,284.1 1232.9,239.8 1233.2,210.6 1233.5,239.8 1233.8,284.1 1234.7,292.3 1235.5,287.4 1235.8,265.8 1236.1,251.4 1236.4,265.8 1236.7,287.4 1237.6,298.7 1238.4,288.7 1238.7,244.5 1239,215.4 1239.3,244.5 1239.6,288.7 1240.5,295.4 1241.3,288.6 1241.6,258.6 1241.9,238.8 1242.2,258.6 1242.5,288.6 1243.4,296.2 1244.2,284.5 1244.5,232.6 1244.8,198.4 1245.1,232.6 1245.4,284.5 1246.3,295 1247.1,283.5 1247.4,232.4 1247.7,198.7 1248,232.4 1248.3,283.5 1249.2,298.8 1250,288.8 1250.3,244.7 1250.6,215.6 1250.9,244.7 1251.2,288.8 1252.1,294.5 1252.9,287 1253.2,253.9 1253.5,232.1 1253.8,253.9 1254.1,287 1255,294.7 1255.8,284.9 1256.1,241.7 1256.4,213.2 1256.7,241.7 1257,284.9 1257.9,297.2 1258.7,286.4 1259,238.9 1259.3,207.6 1259.6,238.9 1259.9,286.4 1260.8,298.1 1261.6,286.4 1261.9,234.7 1262.2,200.6 1262.5,234.7 1262.8,286.4 1263.7,294.9 1264.5,288.5 1264.8,260 1265.1,241.2 1265.4,260 1265.7,288.5 1266.6,299.2 1267.4,288.5 1267.7,241.3 1268,210.1 1268.3,241.3 1268.6,288.5 1269.5,299.1 1270.3,291 1270.6,255.2 1270.9,231.5 1271.2,255.2 1271.5,291 1272.4,300.6 1273.2,290 1273.5,242.9 1273.8,211.9 1274.1,242.9 1274.4,290 1275.3,293.7 1276.1,282.5 1276.4,232.7 1276.7,199.9 1277,232.7 1277.3,282.5 1278.2,301.2 1279,289.9 1279.3,239.9 1279.6,206.8 1279.9,239.9 1280.2,289.9 1281.1,296.7 1281.9,285 1282.2,233 1282.5,198.6 1282.8,233 1283.1,285 1284,300.7 1284.8,288.5 1285.1,234.8 1285.4,199.3 1285.7,234.8 1286,288.5 1286.9,292.7 1287.7,286 1288,256.4 1288.3,236.9 1288.6,256.4 1288.9,286 1289.8,301.7 1290.6,291.1 1290.9,244.3 1291.2,213.4 1291.5,244.3 1291.8,291.1 1292.7,292.8 1293.5,283.8 1293.8,244 1294.1,217.7 1294.4,244 1294.7,283.8 1295.6,295.2 1296.4,285.7 1296.7,243.8 1297,216.1 1297.3,243.8 1297.6,285.7 1298.5,297.5 1299.3,291.3 1299.6,264.1 1299.9,246.1 1300.2,264.1 1300.5,291.3 1301.4,298.2 1302.2,287.5 1302.5,240.3 1302.8,209.1 1303.1,240.3 1303.4,287.5 1304.3,296 1305.1,287.1 1305.4,247.5 1305.7,221.4 1306,247.5 1306.3,287.1 1307.2,297.6 1308,286.5 1308.3,237.5 1308.6,205.1 1308.9,237.5 1309.2,286.5 1310.1,300.5 1310.9,288.5 1311.2,235.3 1311.5,200.2 1311.8,235.3 1312.1,288.5 1313,296.7 1313.8,285 1314.1,233.1 1314.4,198.8 1314.7,233.1 1315,285 1315.9,297.2 1316.7,287.8 1317,246.3 1317.3,218.8 1317.6,246.3 1317.9,287.8 1318.8,301.8 1319.6,290.4 1319.9,239.7 1320.2,206.3 1320.5,239.7 1320.8,290.4 1321.7,299.8 1322.5,290.3 1322.8,248.4 1323.1,220.7 1323.4,248.4 1323.7,290.3 1324.6,298.6 1325.4,288.5 1325.7,244 1326,214.6 1326.3,244 1326.6,288.5 1327.5,292.5 1328.3,284.1 1328.6,247.1 1328.9,222.6 1329.2,247.1 1329.5,284.1 1330.4,297.9 1331.2,286.2 1331.5,234.6 1331.8,200.5 1332.1,234.6 1332.4,286.2 1333.3,294.6 1334.1,285.3 1334.4,244.4 1334.7,217.4 1335,244.4 1335.3,285.3 1336.2,301.2 1337,290.5 1337.3,243.4 1337.6,212.3 1337.9,243.4 1338.2,290.5 1339.1,301.4 1339.9,289.5 1340.2,237.2 1340.5,202.7 1340.8,237.2 1341.1,289.5 1342,293.3 1342.8,283.3 1343.1,238.9 1343.4,209.6 1343.7,238.9 1344,283.3 1344.9,301.4 1345.7,291.6 1346,248.6 1346.3,220.1 1346.6,248.6 1346.9,291.6 1347.8,297.6 1348.6,286.5 1348.9,237 1349.2,204.4 1349.5,237 1349.8,286.5 1350.7,300.1 1351.5,293.3 1351.8,263.1 1352.1,243.1 1352.4,263.1 1352.7,293.3 1353.6,294.7 1354.4,284.8 1354.7,241.5 1355,212.9 1355.3,241.5 1355.6,284.8 1356.5,301.4 1357.3,295.7 1357.6,270.4 1357.9,253.7 1358.2,270.4 1358.5,295.7 1359.4,296.5 1360.2,285.5 1360.5,237.1 1360.8,205.1 1361.1,237.1 1361.4,285.5 1362.3,298.7 1363.1,287.7 1363.4,239 1363.7,206.8 1364,239 1364.3,287.7 1365.2,295 1366,283.9 1366.3,234.8 1366.6,202.4 1366.9,234.8 1367.2,283.9 1368.1,293.9 1368.9,286.3 1369.2,253 1369.5,231 1369.8,253 1370.1,286.3 1371,298.4 1371.8,287.9 1372.1,241.7 1372.4,211.2 1372.7,241.7 1373,287.9 1373.9,295.5 1374.7,287.9 1375,254.3 1375.3,232.2 1375.6,254.3 1375.9,287.9 1376.8,292.8 1377.6,282.8 1377.9,238.5 1378.2,209.2 1378.5,238.5 1378.8,282.8 1379.7,301.9 1380.5,292.6 1380.8,251.3 1381.1,224.1 1381.4,251.3 1381.7,292.6 1382.6,292.4 1383.4,282.5 1383.7,238.5 1384,209.5 1384.3,238.5 1384.6,282.5 1385.5,295.3 1386.3,288.7 1386.6,259.4 1386.9,240.1 1387.2,259.4 1387.5,288.7 1388.4,292.7 1389.2,281.5 1389.5,232.2 1389.8,199.6 1390.1,232.2 1390.4,281.5 1391.3,299.1 1392.1,293.6 1392.4,269.2 1392.7,253.1 1393,269.2 1393.3,293.6 1394.2,298.4 1395,286.9 1395.3,236.2 1395.6,202.7 1395.9,236.2 1396.2,286.9 1397.1,292.3 1397.9,284.6 1398.2,251 1398.5,228.7 1398.8,251 1399.1,284.6 1400,301 1400.8,290.1 1401.1,241.9 1401.4,210 1401.7,241.9 1402,290.1 1402.9,298.8 1403.7,290.4 1404,253.6 1404.3,229.3 1404.6,253.6 1404.9,290.4 1405.8,297.8 1406.6,287.3 1406.9,240.6 1407.2,209.7 1407.5,240.6 1407.8,287.3 1408.7,292.2 1409.5,286.9 1409.8,263.9 1410.1,248.7 1410.4,263.9 1410.7,286.9 1411.6,300.1 1412.4,288 1412.7,234.6 1413,199.3 1413.3,234.6 1413.6,288 1414.5,294.4 1415.3,284.1 1415.6,238.3 1415.9,208.1 1416.2,238.3 1416.5,284.1 1417.4,292.1 1418.2,281.7 1418.5,235.9 1418.8,205.6 1419.1,235.9 1419.4,281.7 1420.3,300.7 1421.1,291.5 1421.4,250.8 1421.7,224 1422,250.8 1422.3,291.5 1423.2,297 1424,285.9 1424.3,236.6 1424.6,204 1424.9,236.6 1425.2,285.9 1426.1,292.5 1426.9,283.6 1427.2,244 1427.5,217.8 1427.8,244 1428.1,283.6 1429,301.5 1429.8,290.2 1430.1,240.4 1430.4,207.6 1430.7,240.4 1431,290.2 1431.9,298.2 1432.7,289.1 1433,248.7 1433.3,222.1 1433.6,248.7 1433.9,289.1 1434.8,292.1 1435.6,282.2 1435.9,238.1 1436.2,208.9 1436.5,238.1 1436.8,282.2 1437.7,297.4 1438.5,288.6 1438.8,249.5 1439.1,223.8 1439.4,249.5 1439.7,288.6 1440.6,297.4 1441.4,285.7 1441.7,234.3 1442,200.3 1442.3,234.3 1442.6,285.7 1443.5,293.7 1444.3,286.8 1444.6,256.3 1444.9,236.1 1445.2,256.3 1445.5,286.8 1446.4,300.6 1447.2,290.5 1447.5,245.8 1447.8,216.2 1448.1,245.8 1448.4,290.5 1449.3,295.3 1450.1,289.7 1450.4,264.6 1450.7,248.1 1451,264.6 1451.3,289.7 1452.2,297.4 1453,287.6 1453.3,244.2 1453.6,215.6 1453.9,244.2 1454.2,287.6 1455.1,298.2 1455.9,290 1456.2,253.9 1456.5,230 1456.8,253.9 1457.1,290 1458,300.9 1458.8,290.1 1459.1,242.3 1459.4,210.7 1459.7,242.3 1460,290.1 1460.9,300.7 1461.7,291.4 1462,250.3 1462.3,223.1 1462.6,250.3 1462.9,291.4 1463.8,297.2 1464.6,286.7 1464.9,240.4 1465.2,209.8 1465.5,240.4 1465.8,286.7 1466.7,301.2 1467.5,291.6 1467.8,249.1 1468.1,221 1468.4,249.1 1468.7,291.6 1469.6,296.2 1470.4,284.6 1470.7,233.3 1471,199.5 1471.3,233.3 1471.6,284.6 1472.5,296 1473.3,287.4 1473.6,249.3 1473.9,224.2 1474.2,249.3 1474.5,287.4 1475.4,295.1 1476.2,285.5 1476.5,243.2 1476.8,215.2 1477.1,243.2 1477.4,285.5 1478.3,298.7 1479.1,290.7 1479.4,255.2 1479.7,231.8 1480,255.2 1480.3,290.7 1481.2,292.2 1482,281.2 1482.3,232.8 1482.6,200.9 1482.9,232.8 1483.2,281.2 1484.1,297.9 1484.9,289.1 1485.2,250.2 1485.5,224.5 1485.8,250.2 1486.1,289.1 1487,297.6 1487.8,285.9 1488.1,234.2 1488.4,200.1 1488.7,234.2 1489,285.9 1489.9,300.6 1490.7,293.1 1491,259.7 1491.3,237.7 1491.6,259.7 1491.9,293.1 1492.8,299.7 1493.6,288.6 1493.9,239.9 1494.2,207.7 1494.5,239.9 1494.8,288.6 1495.7,296.2 1496.5,287.8 1496.8,250.8 1497.1,226.3 1497.4,250.8 1497.7,287.8 1498.6,299.2 1499.4,288.8 1499.7,243 1500,212.8 1500.3,243 1500.6,288.8 1501.5,294.8 1502.3,289.6 1502.6,266.3 1502.9,250.9 1503.2,266.3 1503.5,289.6 1504.4,301.4 1505.2,289.7 1505.5,238.1 1505.8,204 1506.1,238.1 1506.4,289.7 1509.2,258 1509.2,372 1507.9,379.9 1507.5,434.8 1507.3,471 1507,434.8 1506.6,379.9 1505.8,367.5 1505,376 1504.6,414.8 1504.4,440.5 1504.1,414.8 1503.7,376 1502.9,367.2 1502.1,374.7 1501.7,425.5 1501.5,459 1501.2,425.5 1500.8,374.7 1500,363.2 1499.2,373.6 1498.8,424.3 1498.6,457.7 1498.3,424.3 1497.9,373.6 1497.1,362.1 1496.3,376.4 1495.9,425.3 1495.7,457.6 1495.4,425.3 1495,376.4 1494.2,365.3 1493.4,372 1493,416.4 1492.8,445.8 1492.5,416.4 1492.1,372 1491.3,361.9 1490.5,373.1 1490.1,433.7 1489.9,473.7 1489.6,433.7 1489.2,373.1 1488.4,359.4 1487.6,369.2 1487.2,404.5 1487,427.9 1486.7,404.5 1486.3,369.2 1485.5,361.2 1484.7,373.5 1484.3,434.8 1484.1,475.3 1483.8,434.8 1483.4,373.5 1482.6,359.6 1481.8,368.9 1481.4,412.7 1481.2,441.7 1480.9,412.7 1480.5,368.9 1479.7,358.9 1478.9,378.2 1478.5,427.9 1478.3,460.7 1478,427.9 1477.6,378.2 1476.8,366.9 1476,372.7 1475.6,417.4 1475.4,446.9 1475.1,417.4 1474.7,372.7 1473.9,362.6 1473.1,375 1472.7,431.3 1472.5,468.5 1472.2,431.3 1471.8,375 1471,362.3 1470.2,367.8 1469.8,404.8 1469.6,429.2 1469.3,404.8 1468.9,367.8 1468.1,359.4 1467.3,373.6 1466.9,429.9 1466.7,467 1466.4,429.9 1466,373.6 1465.2,360.9 1464.4,377.6 1464,425.4 1463.8,457 1463.5,425.4 1463.1,377.6 1462.3,366.8 1461.5,379.4 1461.1,438.3 1460.9,477.1 1460.6,438.3 1460.2,379.4 1459.4,366.1 1458.6,367.2 1458.2,403.4 1458,427.3 1457.7,403.4 1457.3,367.2 1456.5,359 1455.7,373.1 1455.3,423.2 1455.1,456.2 1454.8,423.2 1454.4,373.1 1453.6,361.8 1452.8,372.5 1452.4,409.8 1452.2,434.5 1451.9,409.8 1451.5,372.5 1450.7,364 1449.9,373.6 1449.5,429.4 1449.3,466.3 1449,429.4 1448.6,373.6 1447.8,360.9 1447,375.2 1446.6,411.1 1446.4,434.8 1446.1,411.1 1445.7,375.2 1444.9,367.1 1444.1,373.4 1443.7,424.5 1443.5,458.3 1443.2,424.5 1442.8,373.4 1442,361.8 1441.2,368.4 1440.8,411.9 1440.6,440.5 1440.3,411.9 1439.9,368.4 1439.1,358.6 1438.3,376.4 1437.9,426.6 1437.7,459.8 1437.4,426.6 1437,376.4 1436.2,365 1435.4,374.1 1435,412.8 1434.8,438.4 1434.5,412.8 1434.1,374.1 1433.3,365.3 1432.5,371.9 1432.1,428 1431.9,465 1431.6,428 1431.2,371.9 1430.4,359.2 1429.6,374.5 1429.2,424.6 1429,457.7 1428.7,424.6 1428.3,374.5 1427.5,363.1 1426.7,371.3 1426.3,425.6 1426.1,461.4 1425.8,425.6 1425.4,371.3 1424.6,359 1423.8,376.8 1423.4,420 1423.2,448.5 1422.9,420 1422.5,376.8 1421.7,367 1420.9,374.4 1420.5,427.3 1420.3,462.2 1420,427.3 1419.6,374.4 1418.8,362.4 1418,379.7 1417.6,437.5 1417.4,475.6 1417.1,437.5 1416.7,379.7 1415.9,366.7 1415.1,376.9 1414.7,425.7 1414.5,458 1414.2,425.7 1413.8,376.9 1413,365.9 1412.2,376.4 1411.8,418.4 1411.6,446.1 1411.3,418.4 1410.9,376.4 1410.1,366.9 1409.3,378.3 1408.9,425.9 1408.7,457.3 1408.4,425.9 1408,378.3 1407.2,367.5 1406.4,371.2 1406,405.3 1405.8,427.9 1405.5,405.3 1405.1,371.2 1404.3,363.5 1403.5,372.9 1403.1,423.7 1402.9,457.3 1402.6,423.7 1402.2,372.9 1401.4,361.4 1400.6,367.3 1400.2,402.6 1400,425.9 1399.7,402.6 1399.3,367.3 1398.5,359.3 1397.7,373.1 1397.3,435.7 1397.1,477.1 1396.8,435.7 1396.4,373.1 1395.6,358.9 1394.8,367.8 1394.4,410.9 1394.2,439.4 1393.9,410.9 1393.5,367.8 1392.7,358.1 1391.9,371 1391.5,427 1391.3,464 1391,427 1390.6,371 1389.8,358.3 1389,368.9 1388.6,416.6 1388.4,448.2 1388.1,416.6 1387.7,368.9 1386.9,358 1386.1,377 1385.7,437.7 1385.5,477.8 1385.2,437.7 1384.8,377 1384,363.2 1383.2,369.6 1382.8,408 1382.6,433.4 1382.3,408 1381.9,369.6 1381.1,360.9 1380.3,378.6 1379.9,426.7 1379.7,458.5 1379.4,426.7 1379,378.6 1378.2,367.7 1377.4,373.7 1377,416.1 1376.8,444.1 1376.5,416.1 1376.1,373.7 1375.3,364.1 1374.5,372 1374.1,432.5 1373.9,472.4 1373.6,432.5 1373.2,372 1372.4,358.3 1371.6,368.3 1371.2,408.9 1371,435.7 1370.7,408.9 1370.3,368.3 1369.5,359.1 1368.7,377 1368.3,427.2 1368.1,460.4 1367.8,427.2 1367.4,377 1366.6,365.6 1365.8,378.3 1365.4,432.4 1365.2,468.2 1364.9,432.4 1364.5,378.3 1363.7,366 1362.9,375.1 1362.5,433.7 1362.3,472.4 1362,433.7 1361.6,375.1 1360.8,361.9 1360,373.4 1359.6,423.3 1359.4,456.2 1359.1,423.3 1358.7,373.4 1357.9,362.1 1357.1,376.1 1356.7,436 1356.5,475.5 1356.2,436 1355.8,376.1 1355,362.5 1354.2,373.6 1353.8,424.4 1353.6,457.9 1353.3,424.4 1352.9,373.6 1352.1,362.1 1351.3,377.5 1350.9,430.9 1350.7,466.3 1350.4,430.9 1350,377.5 1349.2,365.4 1348.4,366.7 1348,403.7 1347.8,428.1 1347.5,403.7 1347.1,366.7 1346.3,358.3 1345.5,379.5 1345.1,434.3 1344.9,470.5 1344.6,434.3 1344.2,379.5 1343.4,367.1 1342.6,372.6 1342.2,430.6 1342,468.8 1341.7,430.6 1341.3,372.6 1340.5,359.5 1339.7,373.5 1339.3,428.2 1339.1,464.4 1338.8,428.2 1338.4,373.5 1337.6,361.1 1336.8,370.9 1336.4,410.1 1336.2,435.9 1335.9,410.1 1335.5,370.9 1334.7,362 1333.9,373.4 1333.5,429 1333.3,465.7 1333,429 1332.6,373.4 1331.8,360.8 1331,368.5 1330.6,405.3 1330.4,429.6 1330.1,405.3 1329.7,368.5 1328.9,360.2 1328.1,374.6 1327.7,425.3 1327.5,458.7 1327.2,425.3 1326.8,374.6 1326,363.1 1325.2,369.4 1324.8,418.9 1324.6,451.7 1324.3,418.9 1323.9,369.4 1323.1,358.1 1322.3,376.6 1321.9,425.8 1321.7,458.2 1321.4,425.8 1321,376.6 1320.2,365.5 1319.4,373.3 1319,407.8 1318.8,430.7 1318.5,407.8 1318.1,373.3 1317.3,365.5 1316.5,378.7 1316.1,429.2 1315.9,462.6 1315.6,429.2 1315.2,378.7 1314.4,367.2 1313.6,378.4 1313.2,428.2 1313,461.1 1312.7,428.2 1312.3,378.4 1311.5,367.1 1310.7,372.1 1310.3,429.5 1310.1,467.5 1309.8,429.5 1309.4,372.1 1308.6,359.1 1307.8,370.6 1307.4,414.2 1307.2,443 1306.9,414.2 1306.5,370.6 1305.7,360.7 1304.9,378.2 1304.5,431.2 1304.3,466.3 1304,431.2 1303.6,378.2 1302.8,366.2 1302,370.1 1301.6,414.9 1301.4,444.4 1301.1,414.9 1300.7,370.1 1299.9,360 1299.1,376.3 1298.7,431.7 1298.5,468.3 1298.2,431.7 1297.8,376.3 1297,363.7 1296.2,372.6 1295.8,412 1295.6,437.9 1295.3,412 1294.9,372.6 1294.1,363.7 1293.3,373.8 1292.9,429.2 1292.7,465.8 1292.4,429.2 1292,373.8 1291.2,361.2 1290.4,369.8 1290,410.4 1289.8,437.2 1289.5,410.4 1289.1,369.8 1288.3,360.6 1287.5,371.3 1287.1,430 1286.9,468.7 1286.6,430 1286.2,371.3 1285.4,358.1 1284.6,379 1284.2,436.2 1284,473.9 1283.7,436.2 1283.3,379 1282.5,366 1281.7,372.6 1281.3,425.2 1281.1,459.9 1280.8,425.2 1280.4,372.6 1279.6,360.7 1278.8,371.1 1278.4,426.4 1278.2,462.9 1277.9,426.4 1277.5,371.1 1276.7,358.6 1275.9,374.4 1275.5,426.8 1275.3,461.4 1275,426.8 1274.6,374.4 1273.8,362.5 1273,367.9 1272.6,402.8 1272.4,425.9 1272.1,402.8 1271.7,367.9 1270.9,360 1270.1,377.8 1269.7,434.6 1269.5,472 1269.2,434.6 1268.8,377.8 1268,365 1267.2,374.5 1266.8,414 1266.6,440 1266.3,414 1265.9,374.5 1265.1,365.6 1264.3,374.4 1263.9,433 1263.7,471.8 1263.4,433 1263,374.4 1262.2,361.1 1261.4,370.6 1261,424.5 1260.8,460.1 1260.5,424.5 1260.1,370.6 1259.3,358.4 1258.5,379.8 1258.1,434.6 1257.9,470.8 1257.6,434.6 1257.2,379.8 1256.4,367.4 1255.6,367.3 1255.2,402.1 1255,425.1 1254.7,402.1 1254.3,367.3 1253.5,359.4 1252.7,377.9 1252.3,428.2 1252.1,461.4 1251.8,428.2 1251.4,377.9 1250.6,366.5 1249.8,374.3 1249.4,426.7 1249.2,461.3 1248.9,426.7 1248.5,374.3 1247.7,362.5 1246.9,379.1 1246.5,434.9 1246.3,471.7 1246,434.9 1245.6,379.1 1244.8,366.5 1244,374.3 1243.6,423.8 1243.4,456.4 1243.1,423.8 1242.7,374.3 1241.9,363.1 1241.1,378.3 1240.7,438.2 1240.5,477.8 1240.2,438.2 1239.8,378.3 1239,364.8 1238.2,373.8 1237.8,406.9 1237.6,428.8 1237.3,406.9 1236.9,373.8 1236.1,366.3 1235.3,379.7 1234.9,433.4 1234.7,468.8 1234.4,433.4 1234,379.7 1233.2,367.5 1232.4,370.1 1232,421.5 1231.8,455.5 1231.5,421.5 1231.1,370.1 1230.3,358.5 1229.5,378.5 1229.1,433.1 1228.9,469.2 1228.6,433.1 1228.2,378.5 1227.4,366.2 1226.6,377.3 1226.2,427.7 1226,460.9 1225.7,427.7 1225.3,377.3 1224.5,365.9 1223.7,372 1223.3,425.9 1223.1,461.5 1222.8,425.9 1222.4,372 1221.6,359.8 1220.8,372.6 1220.4,431 1220.2,469.5 1219.9,431 1219.5,372.6 1218.7,359.4 1217.9,374 1217.5,433.4 1217.3,472.7 1217,433.4 1216.6,374 1215.8,360.6 1215,374.9 1214.6,420.3 1214.4,450.4 1214.1,420.3 1213.7,374.9 1212.9,364.6 1212.1,373 1211.7,433.1 1211.5,472.8 1211.2,433.1 1210.8,373 1210,359.4 1209.2,367.8 1208.8,408 1208.6,434.5 1208.3,408 1207.9,367.8 1207.1,358.7 1206.3,372.7 1205.9,428.9 1205.7,466 1205.4,428.9 1205,372.7 1204.2,360 1203.4,372.6 1203,409.1 1202.8,433.1 1202.5,409.1 1202.1,372.6 1201.3,364.4 1200.5,372.3 1200.1,432.8 1199.9,472.7 1199.6,432.8 1199.2,372.3 1198.4,358.6 1197.6,370.3 1197.2,410.7 1197,437.3 1196.7,410.7 1196.3,370.3 1195.5,361.2 1194.7,378.7 1194.3,436.1 1194.1,474 1193.8,436.1 1193.4,378.7 1192.6,365.7 1191.8,371.2 1191.4,420.8 1191.2,453.6 1190.9,420.8 1190.5,371.2 1189.7,360 1188.9,376.4 1188.5,427.4 1188.3,461.1 1188,427.4 1187.6,376.4 1186.8,364.9 1186,375.3 1185.6,412.6 1185.4,437.3 1185.1,412.6 1184.7,375.3 1183.9,366.9 1183.1,373.6 1182.7,426.7 1182.5,461.7 1182.2,426.7 1181.8,373.6 1181,361.5 1180.2,370.3 1179.8,416.7 1179.6,447.4 1179.3,416.7 1178.9,370.3 1178.1,359.8 1177.3,375.6 1176.9,428.8 1176.7,464 1176.4,428.8 1176,375.6 1175.2,363.6 1174.4,375.7 1174,422.2 1173.8,452.9 1173.5,422.2 1173.1,375.7 1172.3,365.1 1171.5,379 1171.1,435.2 1170.9,472.4 1170.6,435.2 1170.2,379 1169.4,366.3 1168.6,371.6 1168.2,414.9 1168,443.4 1167.7,414.9 1167.3,371.6 1166.5,361.8 1165.7,377 1165.3,432.6 1165.1,469.3 1164.8,432.6 1164.4,377 1163.6,364.4 1162.8,376.1 1162.4,420.5 1162.2,449.8 1161.9,420.5 1161.5,376.1 1160.7,366.1 1159.9,372 1159.5,425.1 1159.3,460.1 1159,425.1 1158.6,372 1157.8,360 1157,372 1156.6,430.6 1156.4,469.4 1156.1,430.6 1155.7,372 1154.9,358.7 1154.1,376 1153.7,430.8 1153.5,467 1153.2,430.8 1152.8,376 1152,363.6 1151.2,369.7 1150.8,403.3 1150.6,425.5 1150.3,403.3 1149.9,369.7 1149.1,362.1 1148.3,370.8 1147.9,424.4 1147.7,459.8 1147.4,424.4 1147,370.8 1146.2,358.7 1145.4,370.6 1145,411.6 1144.8,438.7 1144.5,411.6 1144.1,370.6 1143.3,361.4 1142.5,380.2 1142.1,436.4 1141.9,473.4 1141.6,436.4 1141.2,380.2 1140.4,367.5 1139.6,373.5 1139.2,406.3 1139,428 1138.7,406.3 1138.3,373.5 1137.5,366 1136.7,372.7 1136.3,430.5 1136.1,468.7 1135.8,430.5 1135.4,372.7 1134.6,359.6 1133.8,368.7 1133.4,408.6 1133.2,435 1132.9,408.6 1132.5,368.7 1131.7,359.7 1130.9,377.7 1130.5,434.8 1130.3,472.5 1130,434.8 1129.6,377.7 1128.8,364.8 1128,377.7 1127.6,431.1 1127.4,466.4 1127.1,431.1 1126.7,377.7 1125.9,365.6 1125.1,371.4 1124.7,428.8 1124.5,466.6 1124.2,428.8 1123.8,371.4 1123,358.4 1122.2,378.5 1121.8,426 1121.6,457.3 1121.3,426 1120.9,378.5 1120.1,367.7 1119.3,373 1118.9,433.3 1118.7,473.2 1118.4,433.3 1118,373 1117.2,359.4 1116.4,371.9 1116,409.5 1115.8,434.3 1115.5,409.5 1115.1,371.9 1114.3,363.4 1113.5,373.3 1113.1,429.2 1112.9,466.1 1112.6,429.2 1112.2,373.3 1111.4,360.7 1110.6,372.6 1110.2,429.5 1110,467.1 1109.7,429.5 1109.3,372.6 1108.5,359.8 1107.7,374.1 1107.3,434.3 1107.1,474 1106.8,434.3 1106.4,374.1 1105.6,360.5 1104.8,372.8 1104.4,424.5 1104.2,458.6 1103.9,424.5 1103.5,372.8 1102.7,361.1 1101.9,378.9 1101.5,430.9 1101.3,465.3 1101,430.9 1100.6,378.9 1099.8,367.1 1099,368 1098.6,404.1 1098.4,428 1098.1,404.1 1097.7,368 1096.9,359.8 1096.1,378.1 1095.7,426.5 1095.5,458.4 1095.2,426.5 1094.8,378.1 1094,367.2 1093.2,376.4 1092.8,423.9 1092.6,455.3 1092.3,423.9 1091.9,376.4 1091.1,365.6 1090.3,374.1 1089.9,428.2 1089.7,463.9 1089.4,428.2 1089,374.1 1088.2,361.8 1087.4,375 1087,412.6 1086.8,437.5 1086.5,412.6 1086.1,375 1085.3,366.4 1084.5,376.5 1084.1,426.3 1083.9,459.2 1083.6,426.3 1083.2,376.5 1082.4,365.2 1081.6,373.2 1081.2,423.1 1081,456 1080.7,423.1 1080.3,373.2 1079.5,362 1078.7,378.1 1078.3,434.9 1078.1,472.4 1077.8,434.9 1077.4,378.1 1076.6,365.2 1075.8,373.8 1075.4,419.7 1075.2,450 1074.9,419.7 1074.5,373.8 1073.7,363.4 1072.9,372.5 1072.5,433.6 1072.3,474 1072,433.6 1071.6,372.5 1070.8,358.6 1070,373.9 1069.6,412.1 1069.4,437.4 1069.1,412.1 1068.7,373.9 1067.9,365.3 1067.1,375.8 1066.7,435 1066.5,474.2 1066.2,435 1065.8,375.8 1065,362.3 1064.2,372.5 1063.8,424.9 1063.6,459.5 1063.3,424.9 1062.9,372.5 1062.1,360.7 1061.3,372.4 1060.9,432.6 1060.7,472.3 1060.4,432.6 1060,372.4 1059.2,358.8 1058.4,370.9 1058,407.8 1057.8,432.1 1057.5,407.8 1057.1,370.9 1056.3,362.6 1055.5,375.1 1055.1,434 1054.9,472.9 1054.6,434 1054.2,375.1 1053.4,361.7 1052.6,373.3 1052.2,412 1052,437.5 1051.7,412 1051.3,373.3 1050.5,364.6 1049.7,374.7 1049.3,423.4 1049,455.6 1048.8,423.4 1048.4,374.7 1047.6,363.6 1046.8,375.2 1046.4,411.7 1046.1,435.8 1045.9,411.7 1045.5,375.2 1044.7,366.9 1043.9,377.2 1043.5,425.4 1043.2,457.2 1043,425.4 1042.6,377.2 1041.8,366.2 1041,375.2 1040.6,422.7 1040.3,454.1 1040.1,422.7 1039.7,375.2 1038.9,364.4 1038.1,371.6 1037.7,426.2 1037.4,462.2 1037.2,426.2 1036.8,371.6 1036,359.3 1035.2,376.2 1034.8,428.9 1034.5,463.7 1034.3,428.9 1033.9,376.2 1033.1,364.3 1032.3,377.2 1031.9,426.7 1031.6,459.4 1031.4,426.7 1031,377.2 1030.2,366 1029.4,375.5 1029,424 1028.7,456 1028.5,424 1028.1,375.5 1027.3,364.6 1026.5,370.5 1026.1,425 1025.8,461 1025.6,425 1025.2,370.5 1024.4,358.2 1023.6,372.2 1023.2,424.1 1022.9,458.4 1022.7,424.1 1022.3,372.2 1021.5,360.5 1020.7,377.7 1020.3,425.8 1020,457.6 1019.8,425.8 1019.4,377.7 1018.6,366.8 1017.8,373.5 1017.4,405.7 1017.1,427 1016.9,405.7 1016.5,373.5 1015.7,366.2 1014.9,377.9 1014.5,437.6 1014.2,477.1 1014,437.6 1013.6,377.9 1012.8,364.4 1012,376.8 1011.6,430.9 1011.3,466.6 1011.1,430.9 1010.7,376.8 1009.9,364.6 1009.1,372.6 1008.7,427.7 1008.4,464.2 1008.2,427.7 1007.8,372.6 1007,360.1 1006.2,377.3 1005.8,419.5 1005.5,447.3 1005.3,419.5 1004.9,377.3 1004.1,367.7 1003.3,373 1002.9,428.4 1002.6,464.9 1002.4,428.4 1002,373 1001.2,360.5 1000.4,375.8 1000,413.9 999.7,439.1 999.5,413.9 999.1,375.8 998.3,367.2 997.5,377.6 997.1,431.4 996.8,466.9 996.6,431.4 996.2,377.6 995.4,365.4 994.6,371.3 994.2,410.4 993.9,436.2 993.7,410.4 993.3,371.3 992.5,362.4 991.7,379 991.3,429.8 991,463.4 990.8,429.8 990.4,379 989.6,367.5 988.8,371.2 988.4,419.4 988.1,451.2 987.9,419.4 987.5,371.2 986.7,360.3 985.9,370.1 985.5,423.1 985.2,458.1 985,423.1 984.6,370.1 983.8,358.1 983,373.3 982.6,407.4 982.3,430 982.1,407.4 981.7,373.3 980.9,365.5 980.1,378.3 979.7,433.9 979.4,470.7 979.2,433.9 978.8,378.3 978,365.7 977.2,370.8 976.8,411.9 976.5,439.1 976.3,411.9 975.9,370.8 975.1,361.4 974.3,378.6 973.9,426.7 973.6,458.5 973.4,426.7 973,378.6 972.2,367.7 971.4,371 971,404.3 970.7,426.3 970.5,404.3 970.1,371 969.3,363.5 968.5,375 968.1,432.1 967.8,469.8 967.6,432.1 967.2,375 966.4,362.1 965.6,368.4 965.2,406.3 964.9,431.4 964.7,406.3 964.3,368.4 963.5,359.8 962.7,377.1 962.3,436 962,475 961.8,436 961.4,377.1 960.6,363.7 959.8,372.5 959.4,423.4 959.1,456.9 958.9,423.4 958.5,372.5 957.7,361 956.9,373.6 956.5,424.7 956.2,458.5 956,424.7 955.6,373.6 954.8,362 954,375.5 953.6,424.8 953.3,457.3 953.1,424.8 952.7,375.5 951.9,364.4 951.1,377.9 950.7,429.7 950.4,463.9 950.2,429.7 949.8,377.9 949,366.2 948.2,373.3 947.8,414.5 947.5,441.8 947.3,414.5 946.9,373.3 946.1,364 945.3,372.8 944.9,434 944.6,474.5 944.4,434 944,372.8 943.2,358.9 942.4,377.1 942,422.4 941.7,452.4 941.5,422.4 941.1,377.1 940.3,366.8 939.5,374.7 939.1,432.4 938.8,470.5 938.6,432.4 938.2,374.7 937.4,361.7 936.6,372.4 936.2,413.3 935.9,440.4 935.7,413.3 935.3,372.4 934.5,363.1 933.7,370.4 933.3,423.6 933,458.7 932.8,423.6 932.4,370.4 931.6,358.4 930.8,378.7 930.4,426.4 930.1,457.9 929.9,426.4 929.5,378.7 928.7,367.9 927.9,374.8 927.5,427 927.2,461.4 927,427 926.6,374.8 925.8,363 925,370.2 924.6,403.3 924.4,425.2 924.1,403.3 923.7,370.2 922.9,362.7 922.1,374.8 921.7,435.5 921.5,475.6 921.2,435.5 920.8,374.8 920,361 918.6,360" fill="#000" stroke="#000" stroke-width="1.45" stroke-linejoin="miter" stroke-miterlimit="3"/>
<polyline points="919.2,443 920.6,193.6 922,443.7 923.4,185.6 924.8,468 926.2,213.5 927.6,468 929,242.6 930.4,454.4 931.8,247.2 933.2,436.7 934.6,250.3 936,405.9 937.4,208.6 938.8,418.9 940.2,207.9 941.6,436.9 943,205.1 944.4,465.7 945.8,212 947.2,450.9 948.6,216.6 950,450.7 951.4,239.6 952.8,427 954.2,222.1 955.6,417.4 957,217.2 958.4,439.4 959.8,213.7 961.2,449.1 962.6,185.1 964,456.2 965.4,218.7 966.8,457.8 968.2,233.2 969.6,456.2 971,242.2 972.4,433.2 973.8,228.5 975.2,400.1 976.6,207.6 978,420.6 979.4,209.5 980.8,440.7 982.2,195.3 983.6,468 985,211.1 986.4,448.2 987.8,224 989.2,441.5 990.6,250.4 992,420.1 993.4,229.4 994.8,405.8 996.2,207.7 997.6,433.1 999,209.3 1000.4,457.4 1001.8,221 1003.2,467 1004.6,211.7 1006,449.4 1007.4,214.8 1008.8,448 1010.2,251.4 1011.6,440.7 1013,229.1 1014.4,426.4 1015.8,213 1017.2,434.2 1018.6,208.7 1020,435.8 1021.4,185.1 1022.8,468 1024.2,211 1025.6,468 1027,230.7 1028.4,448.6 1029.8,233.3 1031.2,439.4 1032.6,243.3 1034,402.8 1035.4,247.9 1036.8,442.2 1038.2,201 1039.6,444.8 1041,188.1 1042.4,461.9 1043.8,204.8 1045.2,467.2 1046.6,217.1 1048,443.9 1049.4,241.9 1050.8,457.6 1052.2,233.4 1053.6,414.3 1055,220.5 1056.4,424 1057.8,196.8 1059.2,454.7 1060.6,218.1 1062,448.1 1063.4,200 1064.8,457.2 1066.2,222.1 1067.6,453.6 1069,243.3 1070.4,433.5 1071.8,226.5 1073.2,405 1074.6,246.5 1076,429.6 1077.4,197.9 1078.8,444.1 1080.2,193.7 1081.6,457.5 1083,199.4 1084.4,451.5 1085.8,209.4 1087.2,457.3 1088.6,228.8 1090,421.1 1091.4,227.4 1092.8,419.3 1094.2,209.5 1095.6,442.1 1097,195.7 1098.4,445.3 1099.8,198.1 1101.2,449.3 1102.6,208.2 1104,461.3 1105.4,225.2 1106.8,451.1 1108.2,247.1 1109.6,441.1 1111,233.5 1112.4,409.5 1113.8,235.4 1115.2,434.3 1116.6,194.9 1118,449.3 1119.4,183.3 1120.8,466.4 1122.2,194.7 1123.6,450.7 1125,224.7 1126.4,452.4 1127.8,240.9 1129.2,430.9 1130.6,232.5 1132,410.7 1133.4,214.4 1134.8,434.5 1136.2,198.9 1137.6,436.8 1139,200.5 1140.4,467.6 1141.8,229.5 1143.2,454.8 1144.6,222.8 1146,442.6 1147.4,228.8 1148.8,457.1 1150.2,233.9 1151.6,415.3 1153,225.7 1154.4,427.6 1155.8,192.2 1157.2,438.2 1158.6,185.8 1160,460.6 1161.4,214.8 1162.8,446.3 1164.2,218.7 1165.6,447.2 1167,229.3 1168.4,442.7 1169.8,237.1 1171.2,411.4 1172.6,209.6 1174,436.1 1175.4,195.3 1176.8,445.5 1178.2,192.7 1179.6,447.9 1181,195.1 1182.4,462.1 1183.8,214 1185.2,442.7 1186.6,225.2 1188,443.3 1189.4,244 1190.8,413.3 1192.2,225.3 1193.6,439 1195,197.7 1196.4,455.8 1197.8,183.3 1199.2,465.9 1200.6,220 1202,461.9 1203.4,204.3 1204.8,459.1 1206.2,231.6 1207.6,420 1209,243.9 1210.4,403.4 1211.8,210.1 1213.2,444 1214.6,197.1 1216,441.2 1217.4,192.5 1218.8,466.6 1220.2,188.4 1221.6,453.5 1223,202.4 1224.4,456.5 1225.8,239.2 1227.2,424.5 1228.6,247.2 1230,426 1231.4,216.2 1232.8,441.3 1234.2,198.5 1235.6,441.3 1237,194 1238.4,461.4 1239.8,183 1241.2,446.1 1242.6,207.6 1244,450.7 1245.4,239.1 1246.8,437 1248.2,234.9 1249.6,407.9 1251,212.9 1252.4,428.6 1253.8,191.8 1255.2,450 1256.6,183.5 1258,458.8 1259.4,186.5 1260.8,467.2 1262.2,214.7 1263.6,438.9 1265,233.4 1266.4,420.9 1267.8,236.3 1269.2,417.1 1270.6,210.3 1272,445.5 1273.4,193.4 1274.8,448 1276.2,179.7 1277.6,463.2 1279,195.5 1280.4,468 1281.8,213.5 1283.2,445.8 1284.6,230.5 1286,424.6 1287.4,233.4 1288.8,399.4 1290.2,221 1291.6,424.8 1293,216.6 1294.4,467.5 1295.8,183.5 1297.2,462.5 1298.6,189 1300,446.4 1301.4,209.4 1302.8,444.6 1304.2,221.4 1305.6,425.2 1307,259.5 1308.4,428.9 1309.8,242.8 1311.2,421.5 1312.6,209 1314,455.5 1315.4,192 1316.8,458 1318.2,174 1319.6,458.2 1321,190.2 1322.4,442.4 1323.8,200.8 1325.2,420.8 1326.6,214.9 1328,404.4 1329.4,239.5 1330.8,441.7 1332.2,234 1333.6,444.9 1335,214.1 1336.4,462.5 1337.8,219.2 1339.2,468 1340.6,175.1 1342,457.1 1343.4,181.9 1344.8,433.7 1346.2,210.1 1347.6,398.6 1349,210 1350.4,419.3 1351.8,248.4 1353.2,455.5 1354.6,238.5 1356,468 1357.4,212.2 1358.8,468 1360.2,195.1 1361.6,440.8 1363,170.8 1364.4,432 1365.8,185.5 1367.2,403.9 1368.6,197.2 1370,453.2 1371.4,241.1 1372.8,449.3 1374.2,244.3 1375.6,455.6 1377,228 1378.4,468 1379.8,204.3 1381.2,447.2 1382.6,191.1 1384,432.4 1385.4,175 1386.8,401.3 1388.2,184.6 1389.6,441.8 1391,201.3 1392.4,447.5 1393.8,219.5 1395.2,464 1396.6,216.1 1398,452.2 1399.4,231.5 1400.8,453.4 1402.2,241.1 1403.6,426.9 1405,217.2 1406.4,420.8 1407.8,208.7 1409.2,425.7 1410.6,193.4 1412,468 1413.4,206.9 1414.8,466.5 1416.2,188.7 1417.6,468 1419,203.8 1420.4,441.7 1421.8,218.4 1423.2,428.2 1424.6,238.2 1426,420.1 1427.4,235.4 1428.8,424.5 1430.2,226.4 1431.6,449.4 1433,217.3 1434.4,452.7 1435.8,198 1437.2,458.5 1438.6,203 1440,468 1441.4,192.4 1442.8,434 1444.2,183.6 1445.6,412.3 1447,173.8 1448.4,454 1449.8,171.1 1451.2,441.9 1452.6,162.4 1454,458.2 1455.4,174.5 1456.8,452.1 1458.2,153.7 1459.6,457 1461,153.9 1462.4,433.8 1463.8,142.2 1463.8,142.4" fill="none" stroke="#ff0000" stroke-width="2.5" stroke-linejoin="round" />
<line x1="272" y1="514.4" x2="321.5" y2="514.4" stroke="#000" stroke-width="1.1"/>
<line x1="420.5" y1="514.4" x2="470" y2="514.4" stroke="#ff0000" stroke-width="2.5"/>
<text transform="translate(11.09 41.40) scale(1.0554 1.0216)" font-family="'Liberation Sans',sans-serif" font-size="42" font-weight="bold" fill="#000">A</text>
<text transform="translate(874.05 41.60) scale(1.0070 1.0528)" font-family="'Liberation Sans',sans-serif" font-size="42" font-weight="bold" fill="#000">B</text>
<text transform="translate(188.01 21.70) scale(0.9606 0.9483)" font-family="'DejaVu Sans Light','DejaVu Sans','Liberation Sans',sans-serif" font-size="30" fill="#000" stroke="#000" stroke-width="0.55" stroke-linejoin="round">AUG</text>
<text transform="translate(77.84 159.87) scale(1.0099 0.9423)" font-family="'DejaVu Sans Light','DejaVu Sans','Liberation Sans',sans-serif" font-size="43.5" fill="#000" stroke="#000" stroke-width="0.55" stroke-linejoin="round">1.00</text>
<text transform="translate(73.71 269.23) scale(1.0631 0.9423)" font-family="'DejaVu Sans Light','DejaVu Sans','Liberation Sans',sans-serif" font-size="43.5" fill="#000" stroke="#000" stroke-width="0.55" stroke-linejoin="round">0.95</text>
<text transform="translate(73.75 378.59) scale(1.0540 0.9423)" font-family="'DejaVu Sans Light','DejaVu Sans','Liberation Sans',sans-serif" font-size="43.5" fill="#000" stroke="#000" stroke-width="0.55" stroke-linejoin="round">0.90</text>
<text transform="translate(73.71 487.95) scale(1.0631 0.9423)" font-family="'DejaVu Sans Light','DejaVu Sans','Liberation Sans',sans-serif" font-size="43.5" fill="#000" stroke="#000" stroke-width="0.55" stroke-linejoin="round">0.85</text>
<text transform="translate(78.24 62.92) scale(1.0107 0.9332)" font-family="'DejaVu Sans Light','DejaVu Sans','Liberation Sans',sans-serif" font-size="43.5" fill="#000" stroke="#000" stroke-width="0.55" stroke-linejoin="round">1.05</text>
<text transform="translate(73.75 580.11) scale(1.0540 0.9362)" font-family="'DejaVu Sans Light','DejaVu Sans','Liberation Sans',sans-serif" font-size="43.5" fill="#000" stroke="#000" stroke-width="0.55" stroke-linejoin="round">0.80</text>
<text transform="translate(172.00 644.51) scale(1.1558 0.9484)" font-family="'DejaVu Sans Light','DejaVu Sans','Liberation Sans',sans-serif" font-size="43.5" fill="#000" stroke="#000" stroke-width="0.55" stroke-linejoin="round">0</text>
<text transform="translate(328.08 644.51) scale(0.9808 0.9484)" font-family="'DejaVu Sans Light','DejaVu Sans','Liberation Sans',sans-serif" font-size="43.5" fill="#000" stroke="#000" stroke-width="0.55" stroke-linejoin="round">10</text>
<text transform="translate(490.86 644.51) scale(1.0241 0.9484)" font-family="'DejaVu Sans Light','DejaVu Sans','Liberation Sans',sans-serif" font-size="43.5" fill="#000" stroke="#000" stroke-width="0.55" stroke-linejoin="round">20</text>
<text transform="translate(655.02 644.51) scale(1.0288 0.9484)" font-family="'DejaVu Sans Light','DejaVu Sans','Liberation Sans',sans-serif" font-size="43.5" fill="#000" stroke="#000" stroke-width="0.55" stroke-linejoin="round">30</text>
<text transform="translate(820.90 644.51) scale(1.0038 0.9484)" font-family="'DejaVu Sans Light','DejaVu Sans','Liberation Sans',sans-serif" font-size="43.5" fill="#000" stroke="#000" stroke-width="0.55" stroke-linejoin="round">40</text>
<text transform="translate(901.10 644.51) scale(1.1558 0.9484)" font-family="'DejaVu Sans Light','DejaVu Sans','Liberation Sans',sans-serif" font-size="43.5" fill="#000" stroke="#000" stroke-width="0.55" stroke-linejoin="round">0</text>
<text transform="translate(1054.46 644.51) scale(1.0241 0.9484)" font-family="'DejaVu Sans Light','DejaVu Sans','Liberation Sans',sans-serif" font-size="43.5" fill="#000" stroke="#000" stroke-width="0.55" stroke-linejoin="round">20</text>
<text transform="translate(1220.30 644.51) scale(1.0038 0.9484)" font-family="'DejaVu Sans Light','DejaVu Sans','Liberation Sans',sans-serif" font-size="43.5" fill="#000" stroke="#000" stroke-width="0.55" stroke-linejoin="round">40</text>
<text transform="translate(1382.82 644.51) scale(1.0501 0.9484)" font-family="'DejaVu Sans Light','DejaVu Sans','Liberation Sans',sans-serif" font-size="43.5" fill="#000" stroke="#000" stroke-width="0.55" stroke-linejoin="round">60</text>
<text transform="translate(1547.55 644.51) scale(1.0477 0.9484)" font-family="'DejaVu Sans Light','DejaVu Sans','Liberation Sans',sans-serif" font-size="43.5" fill="#000" stroke="#000" stroke-width="0.55" stroke-linejoin="round">80</text>
<text transform="translate(326.60 524.56) scale(0.9824 0.9066)" font-family="'DejaVu Sans Light','DejaVu Sans','Liberation Sans',sans-serif" font-size="34.0" fill="#000" stroke="#000" stroke-width="0.95" stroke-linejoin="round">180<tspan x="60.42" y="5.28" font-size="47.8">°</tspan></text>
<text transform="translate(472.95 524.55) scale(1.0670 0.9218)" font-family="'DejaVu Sans Light','DejaVu Sans','Liberation Sans',sans-serif" font-size="34.0" fill="#ff0000" stroke="#ff0000" stroke-width="0.95" stroke-linejoin="round">45<tspan x="35.72" y="5.20" font-size="47.0">°</tspan></text>
<text transform="scale(1.08 1)" y="700" font-family="'DejaVu Sans Light','DejaVu Sans','Liberation Sans',sans-serif" font-size="39.0" fill="#000" stroke="#000" stroke-width="0.55"><tspan x="391.70">t</tspan><tspan x="407.88">i</tspan><tspan x="418.67">m</tspan><tspan x="458.05">e</tspan><tspan x="479.82" font-size="54.7" y="705.3" stroke-width="0.15">(</tspan><tspan x="498.76" font-style="italic" y="700">μ</tspan><tspan x="528.56" y="700">s</tspan><tspan x="548.06" font-size="54.7" y="705.3" stroke-width="0.15">)</tspan></text>
<text transform="scale(1.08 1)" y="700" font-family="'DejaVu Sans Light','DejaVu Sans','Liberation Sans',sans-serif" font-size="39.0" fill="#000" stroke="#000" stroke-width="0.55"><tspan x="1066.05">t</tspan><tspan x="1082.23">i</tspan><tspan x="1093.02">m</tspan><tspan x="1132.40">e</tspan><tspan x="1154.17" font-size="54.7" y="705.3" stroke-width="0.15">(</tspan><tspan x="1173.11" font-style="italic" y="700">μ</tspan><tspan x="1202.91" y="700">s</tspan><tspan x="1222.42" font-size="54.7" y="705.3" stroke-width="0.15">)</tspan></text>
<text transform="translate(37.36 386.85) rotate(-90) scale(1.0078 1.0777)" font-family="'Liberation Sans',sans-serif" font-size="44" font-style="italic" fill="#000" stroke="#fff" stroke-width="1.35">ψ</text>
<text transform="translate(48.77 352.33) rotate(-90) scale(0.8788 0.8556)" font-family="'DejaVu Sans Light','DejaVu Sans','Liberation Sans',sans-serif" font-size="30" fill="#000" stroke="#000" stroke-width="0.9">p</text>
<text transform="translate(42.34 311.99) rotate(-90) scale(1.7246 1.1380)" font-family="'DejaVu Sans Light','DejaVu Sans','Liberation Sans',sans-serif" font-size="50" fill="#000" stroke="#fff" stroke-width="0.5">/</text>
<text transform="translate(37.36 283.59) rotate(-90) scale(1.0218 1.0777)" font-family="'Liberation Sans',sans-serif" font-size="44" font-style="italic" fill="#000" stroke="#fff" stroke-width="1.35">ψ</text>
<text transform="translate(47.50 248.52) rotate(-90) scale(0.7778 0.7489)" font-family="'DejaVu Sans Light','DejaVu Sans','Liberation Sans',sans-serif" font-size="30" fill="#000" stroke="#000" stroke-width="0.9">w</text>
</svg>
</body></html>
